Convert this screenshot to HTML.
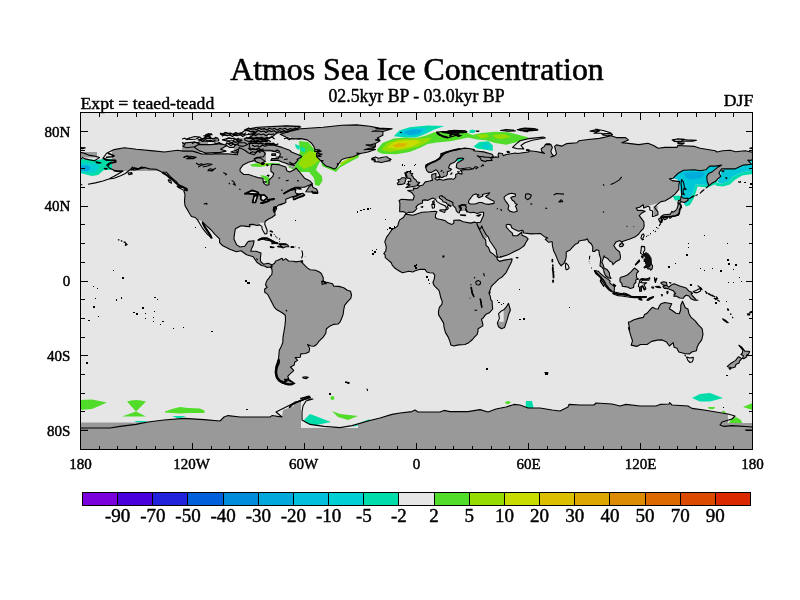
<!DOCTYPE html>
<html><head><meta charset="utf-8"><title>Atmos Sea Ice Concentration</title>
<style>html,body{margin:0;padding:0;background:#fff}svg{display:block}</style></head>
<body>
<svg width="800" height="600" viewBox="0 0 800 600">
<defs><clipPath id="cp"><rect x="80.5" y="112.5" width="672" height="337"/></clipPath></defs>
<rect x="80.5" y="112.5" width="672" height="337" fill="#e6e6e6"/>
<g clip-path="url(#cp)">
<polygon points="80,400 92,399.4 107,402.4 92,409 80,410" fill="#50dc28"/>
<polygon points="127,401.6 131,400.4 136,400 141,400.4 146,401.6 136,411.5 146,416.6 122,416.6 136,411.5" fill="#50dc28"/>
<polygon points="165,411.6 172,409 180,407 188,408 200,408.4 205,411 204,413 188,413 180,413.6 165,412.6" fill="#50dc28"/>
<polygon points="134,421 148,421 140,423.5" fill="#00dcaa"/>
<polygon points="172,416 186,416 179,418.8" fill="#00dcaa"/>
<polygon points="304,420 310,414 331,422 314,425.6 306,423" fill="#00dcaa"/>
<polygon points="332,411 340,414 358,416 348,420 338,417" fill="#50dc28"/>
<circle cx="332.4" cy="398" r="2" fill="#50dc28"/>
<polygon points="362,422 370,419 368,423 352,427" fill="#00dcaa"/>
<polygon points="388,417 392,416 391,418.4" fill="#00dcaa"/>
<polygon points="505,402 508,401 511,402 509,404 506,404" fill="#50dc28"/>
<polygon points="526,401 532,401 533.6,408 525.6,408" fill="#00dcaa"/>
<polygon points="692,398 700,394 710,393 723,398 710,401.6 700,401.6" fill="#00dcaa"/>
<polygon points="708,407 715,407 714,409 709,409" fill="#50dc28"/>
<polygon points="721,412 724,410.6 726,413" fill="#50dc28"/>
<polygon points="729,423 731,419 736,417 741,420 742,423" fill="#50dc28"/>
<polygon points="743,407 752.5,403 752.5,410" fill="#50dc28"/>
<polygon points="80,159 98,160 104,158.4 112,159 112,170 104,170 98,175 92,176 80,173" fill="#00dcaa"/>
<polygon points="80,163 96,163.5 100,167 94,172.5 80,172.5" fill="#00d0d4"/>
<polygon points="80,165.5 88,165.5 91,168 88,171 80,171" fill="#00a8dc"/>
<polygon points="250,164.4 260,163 270,163 280,163.6 280,165.6 268,165.6 260,167 252,166.4" fill="#50dc28"/>
<polygon points="258,164 268,163.6 268,165 259,165.6" fill="#96dc00"/>
<polygon points="260,175 266,176 272.4,180 272.4,184.4 267,184.4 265,180" fill="#50dc28"/>
<polygon points="288,167 296,163 300,152 299,141 308,142 314,149 321,160 318,165 316,170 322,176 322.4,181 319,186 315,185 314,178 309,172 300,172 294,170" fill="#50dc28"/>
<polygon points="298,164 304,155 309,151 315,152 320,160 312,166 304,169" fill="#96dc00"/>
<polygon points="295,144 300,146 299,150 296,148" fill="#00dcaa"/>
<polygon points="300,147 305,148 305,152 301,151" fill="#00dcaa"/>
<polygon points="321,160 336,169 344,162 358,153 359,157 348,163 340,167.6 336,172 322,166" fill="#50dc28"/>
<polygon points="340,163 348,158.5 356,155 357,156.5 348,161 341,165.5" fill="#96dc00"/>
<polygon points="376.9,149.8 382.5,143 393.8,138.5 405,137.4 416.3,138 425.3,135.8 434.3,132.2 445.5,131.3 465.8,132.2 472.5,135.1 481.5,132.9 495,131.8 508.5,132.2 522,135.8 528.8,137.4 517.5,141.9 506.3,144.8 495,143 486,140.3 477,139.6 468,137.4 459,139.6 450,141.2 436.5,142.6 427.5,144.1 420.8,147.5 409.5,152 396,154.3 382.5,153.8 378,152" fill="#50dc28"/>
<polygon points="381.4,149.8 387,143 398.3,139.6 411.8,138.5 423,138.5 432,137.4 427.5,141.9 418.5,146.4 405,149.8 389.3,152" fill="#96dc00"/>
<polygon points="387,147.5 393.8,141.9 405,140.3 416.3,140.3 420.8,141.9 411.8,146.4 398.3,149.3" fill="#c8dc00"/>
<polygon points="392.6,145.3 399.4,143 407.3,143.5 405,146.4 396,147.5" fill="#dcb400"/>
<polygon points="475.9,135.1 486,134 489.4,136.7 481.5,138.5" fill="#96dc00"/>
<polygon points="492.8,135.1 504,134 510.8,136.7 501.8,139 495,138" fill="#96dc00"/>
<polygon points="393.8,136.3 399.4,130.6 409.5,127.3 427.5,125.5 444.4,126.1 434.3,129.5 425.3,134 416.3,137.4 405,137.4" fill="#00dcaa"/>
<polygon points="397,135 401.6,130.6 411.8,128.4 425.3,127.7 427.5,130.6 420.8,135 411.8,136.7" fill="#00d0d4"/>
<polygon points="400.5,133.5 404,130.6 414,129 423,129.3 421,133 411,135.6" fill="#00c0dc"/>
<polygon points="403.9,131.8 414,129.5 421.9,130.6 418.5,134 408.4,135.1" fill="#00a8dc"/>
<polygon points="469,131 472,129.5 476,130.5 474,133 470,133" fill="#00dcaa"/>
<polygon points="473.6,146.4 479.3,141.9 488.3,141.2 492.8,145.3 492.8,150.9 486,149.8 477,148.6" fill="#00dcaa"/>
<polygon points="481.5,145.5 485,143.5 490,145 490.5,148.6 485,148.5" fill="#00d0d4"/>
<polygon points="454.5,158 463.5,157.6 462,161.2 455,161.2" fill="#00dcaa"/>
<polygon points="718.8,177.5 716,184 708,187.5 697.5,186.5 696,192 693.5,199 690,205 686,206.5 684.4,204.3 687.1,203.6 691.3,196.8 694,189.9 695.4,184.4 707.8,185.1 714.6,182.3" fill="#00dcaa"/>
<polygon points="672.7,196 679.6,195.4 681,200 675,200.5" fill="#00dcaa"/>
<polygon points="670.6,177.5 681.6,170.6 695.4,169.3 705,170.6 710.5,165.8 718.8,165.1 722.9,163.8 721.5,169.3 718.8,177.5 714.6,182.3 707.8,185.1 695.4,184.4 694,189.9 691.3,196.8 687.1,203.6 684.4,204.3 681,195.4 679.6,185.8 677.5,179.6" fill="#00c8d8"/>
<polygon points="683.7,172.7 695.4,172 705,172.7 702.3,177.5 691.3,179.6 685.8,177.5" fill="#00acdc"/>
<polygon points="752.5,170.6 752.5,174.1 742.2,175.4 735.3,179.6 729.8,184.4 722.9,186.5 716,185.8 714.6,182.3 721.5,183.7 728.4,181.6 732.5,176.8 740.8,172.7" fill="#00dcaa"/>
<polygon points="721.5,170.6 727,167.9 738,165.8 752.5,163.1 752.5,170.6 740.8,172.7 732.5,176.8 728.4,181.6 721.5,183.7 717.4,182.3 720.1,176.1" fill="#00c8d8"/>
<polygon points="748.3,159 752.5,158.3 752.5,162.4 748.5,162.4" fill="#00c8d8"/>
<path d="M300.0 140.0L300.0 138.6L300.8 138.6L307.3 139.9L311.0 142.7L313.8 146.4L314.8 149.2L321.3 151.1L316.6 153.0L316.6 156.7L320.4 160.4L323.2 163.3L326.0 166.1L330.6 167.6L334.4 169.0L336.2 167.9L339.0 163.3L341.8 159.5L345.6 158.2L353.0 156.7L360.5 153.5L368.0 152.0L375.4 149.6L371.7 148.3L375.4 146.4L375.4 143.6L380.1 140.8L377.3 138.0L382.9 135.2L382.9 131.5L392.2 128.7L379.2 128.1L369.8 126.2L356.8 124.9L341.8 125.3L323.2 127.2L300.8 128.7L300.0 128.9L300.0 127.2L300.8 126.8L300.0 126.8L300.0 125.0L285.0 125.0L285.0 125.9L257.8 127.2L244.8 129.6L256.0 133.3L248.5 138.0L234.0 138.0L234.0 154.5L228.0 153.9L214.9 153.9L211.2 154.3L201.8 153.9L195.5 152.0L202.6 152.0L205.6 153.0L220.5 152.4L226.1 151.1L220.5 149.2L227.0 145.5L220.5 143.6L211.2 144.6L208.0 144.6L208.0 142.0L182.0 142.0L182.0 150.9L177.6 150.2L164.5 152.0L153.3 150.9L136.5 149.2L124.4 147.7L114.1 149.6L112.0 150.7L112.0 160.4L116.0 160.4L116.0 162.3L112.0 162.8L112.0 169.2L114.1 170.2L117.4 171.0L128.5 171.0L159.6 171.0L163.0 171.0L163.0 172.1L166.4 172.2L170.1 176.3L173.3 179.1L176.6 181.9L178.5 184.7L183.2 186.6L186.9 188.9L186.9 190.4L183.7 190.5L185.0 194.7L184.5 200.6L185.0 205.7L187.8 210.4L188.8 212.2L191.4 216.5L195.3 217.5L197.5 219.9L197.5 219.8L197.6 219.8L197.6 219.8L197.6 219.8L197.6 219.8L197.7 219.8L197.7 219.8L197.7 219.8L197.7 219.8L197.8 219.8L197.8 219.8L197.8 219.8L202.5 221.5L202.5 221.5L202.5 221.5L202.6 221.5L202.6 221.5L202.6 221.5L202.6 221.6L202.6 221.6L202.7 221.6L202.7 221.6L202.9 222.3L206.5 225.9L211.2 230.0L214.9 234.3L219.6 238.9L219.6 242.7L222.4 245.5L229.8 249.2L236.4 251.7L241.0 250.7L246.6 254.8L253.2 256.7L256.9 262.3L261.6 265.5L264.4 266.0L267.2 267.4L270.6 267.0L271.8 268.9L272.2 271.7L271.8 274.5L269.6 276.9L269.0 278.2L267.2 280.1L266.0 282.9L265.5 285.1L267.2 287.2L264.7 289.0L264.7 292.2L267.5 294.1L270.0 298.8L272.4 303.4L274.1 306.8L276.5 309.6L282.1 312.8L285.3 315.2L285.5 320.2L284.9 325.9L284.0 331.5L283.0 337.1L282.8 342.7L281.2 346.4L279.3 350.2L278.9 354.8L278.4 359.5L279.3 363.2L277.4 367.0L275.6 370.7L275.6 374.4L277.4 379.1L282.1 382.9L287.7 384.7L291.4 384.4L294.8 383.4L289.6 381.0L286.8 379.1L288.8 378.7L287.7 376.3L289.6 374.4L293.7 370.7L293.3 369.8L290.5 367.0L294.2 365.1L294.6 362.3L297.6 360.4L295.2 357.6L300.2 357.3L300.8 353.9L305.4 353.5L309.0 352.0L309.7 348.3L307.5 344.5L311.0 346.0L314.0 346.2L316.6 344.5L319.1 341.2L323.2 337.1L325.8 333.3L326.3 329.0L329.7 326.2L333.4 324.4L338.1 324.0L340.0 322.1L341.3 319.3L343.1 314.6L343.7 310.0L344.6 305.3L347.4 301.9L350.8 298.4L351.5 295.0L350.6 291.3L347.4 290.2L343.7 287.7L339.0 286.4L333.8 286.2L332.5 283.8L326.9 282.3L326.0 283.8L323.2 281.0L323.2 277.6L321.3 273.5L319.4 272.0L315.7 270.2L310.1 269.8L307.3 267.9L304.5 265.1L302.6 263.2L300.8 261.0L296.1 261.9L293.3 261.2L288.6 261.0L285.8 258.6L283.0 260.4L282.1 258.2L277.4 260.4L275.6 261.0L274.6 263.2L271.9 265.1L271.8 264.7L268.1 263.2L263.4 264.2L260.6 261.4L260.3 258.6L261.0 253.0L256.0 251.3L250.7 251.3L251.7 248.3L253.2 245.5L254.1 240.8L248.5 241.4L247.6 242.1L244.8 246.2L240.1 247.0L236.7 244.9L233.9 238.9L234.7 232.4L235.4 228.7L241.0 225.7L246.6 226.4L250.0 226.8L249.4 224.6L253.2 224.4L256.9 225.5L259.4 225.0L259.4 225.0L259.4 225.0L259.4 224.9L259.4 223.1L259.4 223.0L259.4 223.0L259.4 223.0L259.4 222.9L259.4 222.9L259.5 222.9L259.5 222.9L259.5 222.8L259.5 222.8L259.5 222.8L259.6 222.8L259.6 222.8L259.6 222.8L259.6 222.8L259.7 222.8L259.7 222.8L264.4 222.8L264.4 222.8L264.4 222.8L264.5 222.8L264.5 222.8L264.5 222.8L264.5 222.8L264.6 222.8L264.6 222.9L264.6 222.9L264.6 222.9L264.6 222.9L264.6 223.0L264.8 223.5L265.3 221.2L269.0 218.8L271.8 217.5L275.2 215.0L274.6 211.8L276.5 209.0L275.6 207.5L278.4 205.1L284.0 203.4L285.8 202.5L285.8 199.3L291.4 196.9L293.3 196.9L293.3 199.7L298.0 197.8L304.5 195.0L302.6 193.2L297.0 194.7L295.2 191.7L296.1 189.4L289.6 190.4L284.0 193.5L285.8 192.2L291.4 188.9L295.2 187.2L304.5 187.2L310.1 184.7L312.5 183.8L310.1 181.0L304.5 178.2L300.8 173.5L296.1 168.1L294.2 169.8L289.6 172.0L286.8 170.7L285.8 167.0L278.4 164.6L271.8 164.2L270.9 167.9L270.9 171.3L273.7 173.5L272.8 176.3L269.0 180.1L269.0 184.7L266.2 185.1L263.4 182.9L262.9 178.2L257.8 177.6L248.5 174.5L243.8 174.5L240.1 171.3L240.1 168.9L242.9 165.1L248.5 162.3L249.5 162.0L264.0 162.0L266.0 162.0L266.0 152.0L276.2 152.0L280.0 153.3L280.0 155.3L278.4 158.6L271.8 158.6L270.9 160.4L278.4 160.4L282.1 161.9L284.9 162.9L288.0 166.0L294.0 169.0L296.0 164.0L300.0 159.0L299.2 158.2L301.7 156.7L300.8 155.8L293.6 152.9L291.1 150.7L280.0 147.0L268.0 141.0L268.0 138.9L266.9 138.4L267.2 138.4L268.0 138.1L268.0 135.0L273.7 135.5L276.5 133.3L285.0 131.6L285.0 132.9L280.2 134.3L284.4 136.4L292.0 137.0L298.0 140.0ZM257.8 192.2L258.8 194.1L254.1 194.1L248.5 193.7L244.8 193.7L252.2 190.4ZM267.2 197.8L264.0 200.6L262.5 200.6L260.6 198.8L261.0 196.5L259.7 195.0L264.4 195.0ZM257.8 195.4L255.4 202.5L252.6 202.5L254.1 195.6ZM267.2 202.1L262.5 203.6L261.0 203.1L269.0 201.0ZM273.7 199.7L269.0 200.3L267.5 200.1L274.3 198.8ZM80.0 157.5L97.0 157.5L97.0 152.0L80.0 152.0ZM391.0 158.0L377.0 158.0L377.0 162.0L391.0 162.0ZM412.8 173.5L410.0 173.2L410.9 171.5L407.2 171.5L405.3 173.5L406.2 176.3L407.2 178.2L410.0 178.4L410.9 180.1L410.9 181.2L408.1 181.4L408.7 183.3L406.8 184.2L410.0 184.9L408.5 185.7L405.9 187.6L410.0 187.0L414.6 186.2L418.9 185.3L417.4 184.7L419.7 182.5L416.9 181.9L416.1 180.1L413.7 178.2L412.8 176.3L411.3 175.6ZM397.8 184.6L401.6 184.4L404.7 183.4L405.3 181.0L406.0 179.1L404.7 177.8L401.6 177.8L400.6 179.3L397.8 179.7L399.1 181.6L397.3 183.4ZM312.9 193.2L315.7 193.5L317.9 192.2L316.6 188.9L312.9 187.6L312.3 184.7L309.2 186.6L305.8 191.8L312.0 192.0ZM281.2 247.0L283.0 247.9L285.8 246.8L288.8 246.8L287.7 244.9L285.8 244.0L282.7 244.0L279.7 243.8L280.6 245.5L281.2 246.2L277.6 246.6ZM669.6 402.6L669.0 404.0L660.0 404.4L656.0 406.0L640.0 406.0L626.0 404.4L620.0 406.0L612.0 404.0L596.0 403.0L594.0 405.0L580.0 405.0L569.0 404.4L568.0 407.0L560.0 411.0L552.0 410.0L540.0 408.0L528.0 408.0L520.0 405.0L514.0 404.4L506.0 407.0L496.0 409.0L488.0 412.0L480.0 409.6L468.0 411.6L450.0 411.6L444.0 410.4L440.0 412.0L418.0 412.0L415.0 410.0L412.0 411.6L400.0 413.0L392.0 414.4L380.0 418.0L368.0 421.0L358.0 423.5L358.0 428.0L301.0 428.0L301.0 401.0L294.0 401.0L294.0 406.0L283.0 410.0L282.0 417.0L270.0 417.0L240.0 417.0L228.0 415.6L224.0 417.0L220.0 421.0L204.0 419.6L184.0 418.4L164.0 420.0L148.0 422.0L134.0 422.6L80.0 422.6L80.0 451.0L753.0 451.0L753.0 423.0L728.0 423.0L728.0 414.0L716.0 412.0L704.0 410.0L692.0 408.4L688.0 406.0L672.0 405.0ZM679.7 203.1L680.6 201.6L684.4 202.5L688.1 200.3L687.7 198.4L683.4 198.2L681.0 196.1L680.6 200.1L678.4 200.6L677.8 203.4ZM422.5 202.9L422.5 200.3L424.9 199.9L427.7 200.4L430.5 199.1L432.9 198.0L435.5 199.4L435.5 199.4L435.5 199.3L435.5 199.3L435.5 199.3L435.6 199.3L435.6 199.3L435.6 199.2L435.6 199.2L439.6 197.9L439.6 197.9L439.6 197.9L439.6 197.9L439.5 196.3L442.1 195.6L442.1 196.3L442.0 196.3L440.0 198.0L443.0 201.8L446.4 202.7L451.0 205.9L453.2 205.6L455.7 208.1L456.3 210.9L458.1 212.6L459.4 212.8L459.7 211.0L466.9 211.0L467.5 211.8L470.6 212.8L473.6 212.2L477.2 213.5L480.9 212.2L483.7 212.2L483.5 215.6L481.8 219.3L480.5 222.3L476.8 222.7L474.4 222.1L470.6 223.1L463.2 221.8L459.4 220.1L453.8 220.3L453.8 223.1L452.0 224.4L448.2 223.1L445.1 220.6L440.8 219.5L437.0 218.8L435.4 217.5L435.5 214.7L437.0 211.8L435.2 211.3L429.6 211.8L422.1 212.2L416.5 214.1L412.8 215.2L405.5 214.1L403.4 217.5L399.7 219.9L398.4 223.1L397.8 225.9L395.0 228.1L392.2 229.2L388.7 234.3L386.6 237.1L384.8 241.8L385.7 244.6L386.3 247.4L385.7 251.1L383.8 253.5L385.1 254.8L385.3 257.6L388.5 260.4L391.3 262.7L392.2 265.1L395.0 268.3L399.7 271.3L402.5 272.8L409.0 271.3L412.8 272.0L414.6 271.1L420.2 269.2L424.9 269.4L426.8 272.0L429.6 272.8L433.3 273.0L434.8 275.4L434.2 279.1L432.9 282.5L434.2 285.7L438.9 290.3L439.5 292.2L440.8 297.8L442.3 301.6L441.9 304.4L439.5 307.2L438.5 310.9L438.5 314.6L440.8 318.4L443.6 323.1L444.1 327.7L445.4 332.4L448.2 337.1L450.1 342.1L450.8 344.9L453.8 346.0L458.5 344.9L465.0 344.5L468.8 342.7L472.5 339.5L474.4 337.1L477.2 334.3L477.9 331.5L478.1 328.7L482.8 325.9L482.8 324.0L481.5 319.3L482.8 318.4L485.6 314.6L489.3 312.8L492.7 309.0L492.3 305.3L492.1 301.2L490.8 299.7L490.2 296.0L488.9 293.1L490.2 289.8L491.2 286.6L493.0 284.7L494.9 282.9L498.6 279.1L502.4 276.7L506.1 272.6L508.9 267.0L511.7 261.4L512.1 258.9L504.2 260.1L499.6 261.4L497.3 259.5L496.8 257.3L493.0 253.9L490.2 252.0L488.4 247.4L486.1 245.5L485.6 239.9L483.9 238.0L487.0 238.0L487.0 235.5L488.4 237.1L489.7 240.8L493.0 245.5L496.2 250.2L496.4 253.3L497.7 257.3L500.5 257.1L508.0 254.8L513.9 251.7L519.2 249.2L522.0 247.4L524.4 245.5L525.7 242.7L528.1 238.9L526.1 236.9L522.0 235.2L521.8 231.8L521.0 232.8L517.3 235.8L512.8 235.6L512.6 233.9L511.7 232.4L510.2 231.5L508.9 230.0L506.5 227.4L506.1 224.9L508.0 224.2L510.8 224.9L511.7 227.7L514.7 229.6L518.6 231.3L522.0 230.2L522.9 230.5L523.8 233.0L531.3 233.9L540.6 233.5L542.1 234.8L544.4 236.7L547.7 238.0L545.3 239.3L548.7 242.3L551.3 241.8L552.2 241.8L552.4 245.5L553.7 251.1L555.6 254.8L557.1 258.6L558.9 262.9L561.2 265.9L562.5 264.4L564.0 263.6L564.5 261.7L565.5 260.4L566.2 256.7L566.2 252.0L570.1 250.0L571.4 248.3L575.5 244.2L578.5 242.7L578.9 241.0L582.6 240.3L585.4 239.9L587.3 238.8L588.6 241.8L591.4 244.0L592.9 247.4L592.5 251.1L594.4 251.5L596.6 249.8L598.9 250.5L599.4 254.8L600.7 258.6L600.4 262.3L600.0 266.0L602.2 267.4L603.7 269.8L604.1 272.6L605.6 275.8L608.8 278.0L611.0 278.4L609.7 276.3L609.3 272.6L606.9 269.4L604.1 267.9L603.2 265.1L601.9 262.3L603.2 258.6L604.1 255.8L605.0 257.3L607.8 258.6L609.7 261.0L612.1 262.3L612.9 264.7L616.2 261.4L620.0 259.5L620.5 256.7L619.6 252.0L616.2 249.2L613.8 245.5L615.9 242.1L620.0 240.6L622.4 243.1L621.8 241.8L624.6 240.8L629.9 239.1L634.9 237.1L638.6 234.3L640.5 231.5L643.3 228.7L644.2 225.9L643.9 223.4L643.9 221.8L641.4 218.4L639.2 215.6L641.4 213.3L645.2 211.3L641.8 210.4L637.7 210.5L636.2 208.1L639.6 207.2L643.3 204.7L643.7 208.1L647.7 206.4L647.7 206.3L647.7 206.3L647.7 206.3L647.7 206.3L647.7 206.2L647.7 206.2L647.7 206.2L647.7 206.1L647.7 206.1L647.7 206.1L647.7 206.1L647.7 206.0L647.8 206.0L647.8 206.0L647.8 206.0L647.8 206.0L647.9 206.0L647.9 205.9L658.5 203.1L658.6 203.1L658.6 203.1L658.6 203.1L658.6 203.1L658.7 203.1L658.7 203.2L658.7 203.2L658.8 203.2L658.8 203.2L658.8 203.2L658.8 203.2L658.8 203.3L661.0 201.6L664.8 201.0L670.4 197.8L675.0 194.1L678.8 189.4L678.8 184.7L679.7 181.6L672.2 180.6L669.4 178.8L673.2 178.2L677.8 173.5L683.4 170.2L694.6 169.8L700.2 170.7L705.8 169.8L709.6 166.1L715.2 166.1L721.7 165.1L717.0 167.9L712.4 171.7L708.6 173.5L706.8 176.3L707.1 181.0L709.0 185.7L712.4 182.9L715.2 181.6L718.5 178.2L720.8 176.3L718.9 173.0L720.8 169.8L721.7 168.9L726.4 168.9L734.8 168.9L743.2 165.1L751.6 164.2L750.6 163.3L747.8 160.1L750.6 160.4L752.5 159.5L752.5 152.2L745.0 150.7L735.7 151.7L730.1 150.2L722.6 150.7L717.0 152.0L715.2 150.7L700.2 148.3L694.6 146.4L677.8 145.5L676.9 147.4L664.8 147.4L658.2 148.3L653.6 145.5L648.0 143.3L638.6 144.6L626.5 143.1L621.8 142.7L628.4 139.9L625.6 137.6L616.2 137.6L611.2 135.8L599.4 138.4L588.2 139.5L578.9 140.8L577.0 142.7L566.8 143.6L562.1 146.1L556.5 144.9L554.6 146.4L555.6 150.2L556.5 153.9L554.6 155.8L550.9 157.1L553.7 155.8L551.8 153.9L550.9 151.1L552.4 147.4L550.9 144.6L545.3 144.6L544.4 146.4L541.2 148.7L541.6 151.1L544.4 153.5L541.6 152.6L536.0 151.5L529.4 150.7L528.5 152.0L522.9 152.8L517.3 153.5L515.4 153.0L506.1 154.5L503.3 155.8L502.4 153.5L498.6 153.0L498.1 155.2L498.6 157.3L494.9 156.9L492.0 158.1L492.0 157.0L493.4 156.3L492.1 154.3L483.7 151.9L478.1 151.3L473.4 150.7L474.4 149.6L468.8 148.5L464.5 148.1L457.6 149.6L452.0 150.5L448.2 152.0L444.5 153.3L440.8 155.4L439.8 157.6L436.1 160.4L432.4 162.3L429.6 163.3L425.8 165.1L425.8 167.9L426.8 170.7L428.6 172.4L431.4 172.4L434.2 170.7L436.1 169.8L437.0 170.7L438.5 172.6L439.8 175.8L440.8 177.5L443.0 177.5L443.2 176.5L446.2 176.0L447.3 174.5L447.3 171.7L450.1 170.7L451.6 169.2L448.6 167.9L448.8 167.0L450.1 164.2L454.8 161.9L456.3 160.4L457.6 158.6L461.3 158.0L463.7 158.6L463.2 159.5L457.6 162.7L456.6 164.2L456.3 167.4L459.2 169.0L463.2 168.5L469.7 167.7L472.9 169.0L468.8 169.8L464.1 169.6L460.4 170.4L462.0 172.0L461.9 174.1L458.5 173.2L455.7 174.5L455.7 177.3L453.5 179.3L451.0 178.8L447.3 179.1L443.0 180.3L439.8 179.3L437.0 180.1L434.8 178.6L436.5 177.6L435.7 175.4L436.1 173.2L431.8 174.5L431.8 177.3L432.6 180.1L429.6 181.0L425.3 181.9L423.0 184.9L419.5 186.1L416.9 188.5L413.3 188.1L413.7 190.0L407.7 190.5L411.8 192.6L414.3 196.0L413.1 199.9L409.0 199.9L401.6 199.3L399.1 200.6L399.9 203.4L399.7 208.7L399.7 211.8L402.9 211.5L404.7 212.2L406.2 213.7L408.1 212.4L412.8 212.2L415.2 210.5L416.9 208.5L415.9 207.2L418.4 204.4ZM477.4 224.9L478.0 226.1L478.0 226.6L477.2 224.9L476.8 222.7ZM444.5 197.3L445.2 198.1L444.5 197.3L444.2 197.2ZM450.1 201.0L450.4 201.2L450.0 201.0L447.9 200.1ZM492.0 160.3L492.1 160.4L492.0 160.5ZM461.1 205.0L461.3 204.7L466.0 204.7L465.9 205.0ZM468.8 200.6L470.1 198.8L471.9 196.5L473.4 194.7L475.9 193.9L479.0 195.0L477.2 196.0L479.0 197.8L482.8 196.1L482.4 194.5L486.5 193.5L489.7 192.8L487.8 195.0L485.6 196.5L487.4 197.8L490.8 199.7L494.0 201.2L494.0 203.4L488.4 204.4L484.6 203.8L481.8 202.5L479.0 202.5L475.3 204.0L470.6 204.0L469.7 203.8L468.4 202.5ZM511.7 193.2L515.4 194.1L515.4 196.3L512.1 196.9L510.8 197.8L512.6 200.6L514.5 201.6L515.1 203.4L517.3 204.4L515.4 206.2L516.4 208.1L517.3 211.3L513.6 212.2L509.8 211.1L508.0 209.0L508.9 205.7L507.0 202.9L505.2 200.6L504.2 198.8L504.2 196.9L508.0 194.1ZM661.0 217.5L664.8 216.9L668.5 216.5L670.0 218.4L671.9 216.9L672.2 216.1L674.1 216.3L676.0 215.2L678.4 215.2L679.3 213.7L679.7 210.0L681.6 207.2L680.3 203.8L678.2 204.4L677.8 206.2L676.9 209.0L675.0 211.1L672.8 212.2L671.9 211.3L670.4 214.1L666.6 214.5L663.8 214.8L661.0 216.5ZM663.5 218.8L664.8 219.7L667.2 218.4L667.6 217.1L663.8 217.5ZM662.0 222.1L662.5 219.3L661.0 217.8L659.2 218.4L658.6 219.3L659.5 221.2L660.5 223.1ZM643.3 256.3L641.4 256.0L642.0 257.6L642.7 258.0ZM648.5 260.4L649.8 261.9L651.0 260.4L649.8 258.0L648.5 257.8ZM644.2 258.9L644.2 261.4L645.2 261.4L646.1 259.5ZM647.0 262.3L646.1 260.8L645.4 263.2L646.7 263.6ZM644.2 267.9L647.0 267.0L648.0 268.9L650.2 268.9L650.8 270.2L652.1 268.9L652.6 266.0L650.8 262.9L647.0 265.1L644.2 267.0ZM638.6 279.1L636.8 278.2L636.4 275.4L636.8 273.0L638.6 271.3L636.2 269.2L634.3 268.1L631.2 271.7L627.4 275.0L624.3 276.3L620.9 277.3L620.0 278.2L620.0 281.6L621.8 283.4L622.2 286.2L625.0 286.6L627.4 287.0L630.4 288.5L633.6 287.5L634.0 284.2L635.8 282.5L635.8 280.1ZM611.6 284.4L609.7 282.9L610.1 281.0L607.8 279.1L605.0 277.3L603.2 275.8L600.4 273.5L598.5 271.3L594.4 270.5L595.7 273.5L598.5 275.8L600.7 277.8L601.3 280.1L603.7 282.9L605.0 285.7L606.9 287.9L608.8 290.0L611.8 291.8L614.2 291.8L614.4 286.6ZM674.1 296.5L676.0 296.0L679.7 298.0L683.4 298.2L684.4 296.5L686.2 295.2L689.0 296.0L690.9 298.8L694.6 300.3L698.0 300.3L696.5 300.1L692.6 296.0L690.9 293.7L692.4 293.5L691.8 292.2L688.7 290.9L686.2 288.1L679.7 285.9L674.1 283.8L672.2 284.4L668.5 287.2L667.0 285.7L666.6 282.5L663.8 281.7L661.0 282.5L661.0 283.4L663.5 285.1L666.1 285.5L662.9 286.4L664.4 288.5L665.7 288.1L669.4 289.2L673.2 290.7L675.6 293.7L674.1 294.1ZM508.9 313.7L510.4 310.0L508.5 303.4L506.1 307.2L504.2 309.4L503.3 309.9L503.7 309.8L503.7 321.8L498.3 321.8L498.3 320.8L497.3 323.1L498.6 326.8L501.4 328.7L504.6 327.4L507.0 320.2ZM662.0 339.9L666.6 342.1L669.4 346.0L673.2 342.7L674.1 347.3L676.9 348.3L678.8 352.0L684.4 353.5L689.6 353.9L691.8 352.0L696.5 350.7L697.1 347.3L698.9 343.6L701.7 339.9L703.0 334.3L702.1 328.7L698.4 324.9L695.2 320.8L690.9 317.1L689.0 313.7L687.9 309.0L685.3 307.7L682.5 301.2L680.8 305.3L680.6 310.0L679.3 313.7L676.0 313.3L672.2 310.5L669.4 308.7L671.7 303.8L664.8 302.5L661.0 303.8L659.2 306.2L658.2 309.0L655.4 308.7L652.6 307.2L649.8 310.0L647.0 313.3L644.6 314.6L643.3 317.4L638.6 318.4L634.0 319.7L630.2 321.7L628.4 322.1L629.7 329.6L628.4 327.7L631.2 337.1L632.5 340.8L631.2 345.1L636.8 346.4L640.5 344.5L647.0 344.5L651.7 341.4L657.3 340.1ZM748.8 351.3L745.0 351.3L743.7 349.6L741.9 347.3L738.9 345.3L739.8 346.4L742.8 350.2L742.4 353.0L740.9 354.6L743.4 355.8L742.6 358.2L743.7 358.8L746.7 356.7L746.9 354.8L748.4 354.3L749.7 351.5ZM738.9 356.7L737.9 357.3L735.7 360.4L731.0 363.2L727.3 366.4L729.2 367.3L732.0 368.1L735.1 367.0L736.1 364.2L739.1 362.9L739.4 361.4L741.7 358.6ZM657.5 215.0L657.5 206.0L653.5 206.0L653.5 215.0Z" fill="#999999" fill-rule="evenodd" stroke="none"/>

<path d="M102.9 158.4L106.6 153.3L114.1 149.6L124.4 147.7L136.5 149.2L153.3 150.9L164.5 152.0L177.6 150.2L183.2 151.1L192.5 151.1L201.8 153.9L211.2 154.3L214.9 153.9L228.0 153.9L237.3 154.8L239.2 147.4L244.8 150.2L248.5 153.0L254.1 154.8L257.8 151.1L263.4 151.1L265.3 153.9L263.4 156.7L256.0 157.6L254.1 160.4L248.5 162.3L242.9 165.1L240.1 168.9L240.1 171.3L243.8 174.5L248.5 174.5L257.8 177.6L262.9 178.2L263.4 182.9L266.2 185.1L269.0 184.7L269.0 180.1L272.8 176.3L273.7 173.5L270.9 171.3L270.9 167.9L271.8 164.2L278.4 164.6L285.8 167.0L286.8 170.7L289.6 172.0L294.2 169.8L296.1 168.1L300.8 173.5L304.5 178.2L310.1 181.0L312.5 183.8L310.1 184.7L304.5 187.2L295.2 187.2L291.4 188.9L285.8 192.2L284.0 193.5L289.6 190.4L296.1 189.4L295.2 191.7L297.0 194.7L302.6 193.2L304.5 195.0L298.0 197.8L293.3 199.7L293.3 196.9L291.4 196.9L285.8 199.3L285.8 202.5L284.0 203.4L278.4 205.1L275.6 207.5L276.5 209.0L274.6 211.8L275.2 215.0L271.8 217.5L269.0 218.8L265.3 221.2L264.7 224.0L267.2 230.5L266.8 233.7L264.9 233.9L262.1 229.0L261.9 226.4L259.7 224.9L256.9 225.5L253.2 224.4L249.4 224.6L250.0 226.8L246.6 226.4L241.0 225.7L235.4 228.7L234.7 232.4L233.9 238.9L236.7 244.9L240.1 247.0L244.8 246.2L247.6 242.1L248.5 241.4L254.1 240.8L253.2 245.5L251.7 248.3L250.7 251.3L256.0 251.3L261.0 253.0L260.3 258.6L260.6 261.4L263.4 264.2L268.1 263.2L271.8 264.7L272.2 267.0L270.9 267.0L267.2 267.4L264.4 266.0L261.6 265.5L256.9 262.3L253.2 256.7L246.6 254.8L241.0 250.7L236.4 251.7L229.8 249.2L222.4 245.5L219.6 242.7L219.6 238.9L214.9 234.3L211.2 230.0L206.5 225.9L202.4 221.8L203.7 224.9L207.4 230.5L210.6 235.8L212.1 238.0L207.4 234.3L202.8 228.7L200.0 224.0L197.7 220.1L195.3 217.5L191.4 216.5L188.8 212.2L187.8 210.4L185.0 205.7L184.5 200.6L185.0 194.7L183.7 190.5L186.9 190.4L186.9 188.9L183.2 186.6L178.5 184.7L176.6 181.9L173.3 179.1L170.1 176.3L166.4 172.2L161.7 172.0L156.1 169.2L149.6 168.9L144.0 167.4L139.3 168.9L133.7 170.2L132.8 167.0L130.0 169.8L125.3 173.5L120.6 175.8L114.1 178.2L108.9 179.0L114.1 176.3L120.6 172.6L122.9 171.1L117.8 171.1L114.1 170.2L109.4 167.9L106.6 165.1L108.9 163.3L116.0 162.3L116.0 160.4L110.4 160.4L105.7 160.1ZM280.2 134.3L289.6 131.5L300.8 128.7L323.2 127.2L341.8 125.3L356.8 124.9L369.8 126.2L379.2 128.1L392.2 128.7L382.9 131.5L382.9 135.2L377.3 138.0L380.1 140.8L375.4 143.6L375.4 146.4L371.7 148.3L375.4 149.6L368.0 152.0L360.5 153.5L353.0 156.7L345.6 158.2L341.8 159.5L339.0 163.3L336.2 167.9L334.4 169.0L330.6 167.6L326.0 166.1L323.2 163.3L320.4 160.4L316.6 156.7L316.6 153.0L321.3 151.1L314.8 149.2L313.8 146.4L311.0 142.7L307.3 139.9L300.8 138.6L291.4 139.0L285.8 137.1ZM271.8 265.1L274.6 263.2L275.6 261.0L277.4 260.4L282.1 258.2L283.0 260.4L285.8 258.6L288.6 261.0L293.3 261.2L296.1 261.9L300.8 261.0L302.6 263.2L304.5 265.1L307.3 267.9L310.1 269.8L315.7 270.2L319.4 272.0L321.3 273.5L323.2 277.6L323.2 281.0L326.0 283.8L326.9 282.3L332.5 283.8L333.8 286.2L339.0 286.4L343.7 287.7L347.4 290.2L350.6 291.3L351.5 295.0L350.8 298.4L347.4 301.9L344.6 305.3L343.7 310.0L343.1 314.6L341.3 319.3L340.0 322.1L338.1 324.0L333.4 324.4L329.7 326.2L326.3 329.0L325.8 333.3L323.2 337.1L319.1 341.2L316.6 344.5L314.0 346.2L311.0 346.0L307.5 344.5L309.7 348.3L309.0 352.0L305.4 353.5L300.8 353.9L300.2 357.3L295.2 357.6L297.6 360.4L294.6 362.3L294.2 365.1L290.5 367.0L293.3 369.8L293.7 370.7L289.6 374.4L287.7 376.3L288.8 378.7L286.8 379.1L289.6 381.0L294.8 383.4L291.4 384.4L287.7 384.7L282.1 382.9L277.4 379.1L275.6 374.4L275.6 370.7L277.4 367.0L279.3 363.2L278.4 359.5L278.9 354.8L279.3 350.2L281.2 346.4L282.8 342.7L283.0 337.1L284.0 331.5L284.9 325.9L285.5 320.2L285.3 315.2L282.1 312.8L276.5 309.6L274.1 306.8L272.4 303.4L270.0 298.8L267.5 294.1L264.7 292.2L264.7 289.0L267.2 287.2L265.5 285.1L266.0 282.9L267.2 280.1L269.0 278.2L269.6 276.9L271.8 274.5L272.2 271.7L271.8 268.9L270.5 267.0ZM405.5 214.1L412.8 215.2L416.5 214.1L422.1 212.2L429.6 211.8L435.2 211.3L437.0 211.8L435.5 214.7L435.4 217.5L437.0 218.8L440.8 219.5L445.1 220.6L448.2 223.1L452.0 224.4L453.8 223.1L453.8 220.3L459.4 220.1L463.2 221.8L470.6 223.1L474.4 222.1L476.8 222.7L477.2 224.9L479.0 228.7L481.8 234.3L483.1 237.1L485.6 239.9L486.1 245.5L488.4 247.4L490.2 252.0L493.0 253.9L496.8 257.3L497.3 259.5L499.6 261.4L504.2 260.1L512.1 258.9L511.7 261.4L508.9 267.0L506.1 272.6L502.4 276.7L498.6 279.1L494.9 282.9L493.0 284.7L491.2 286.6L490.2 289.8L488.9 293.1L490.2 296.0L490.8 299.7L492.1 301.2L492.3 305.3L492.7 309.0L489.3 312.8L485.6 314.6L482.8 318.4L481.5 319.3L482.8 324.0L482.8 325.9L478.1 328.7L477.9 331.5L477.2 334.3L474.4 337.1L472.5 339.5L468.8 342.7L465.0 344.5L458.5 344.9L453.8 346.0L450.8 344.9L450.1 342.1L448.2 337.1L445.4 332.4L444.1 327.7L443.6 323.1L440.8 318.4L438.5 314.6L438.5 310.9L439.5 307.2L441.9 304.4L442.3 301.6L440.8 297.8L439.5 292.2L438.9 290.3L434.2 285.7L432.9 282.5L434.2 279.1L434.8 275.4L433.3 273.0L429.6 272.8L426.8 272.0L424.9 269.4L420.2 269.2L414.6 271.1L412.8 272.0L409.0 271.3L402.5 272.8L399.7 271.3L395.0 268.3L392.2 265.1L391.3 262.7L388.5 260.4L385.3 257.6L385.1 254.8L383.8 253.5L385.7 251.1L386.3 247.4L385.7 244.6L384.8 241.8L386.6 237.1L388.7 234.3L392.2 229.2L395.0 228.1L397.8 225.9L398.4 223.1L399.7 219.9L403.4 217.5ZM399.7 208.7L399.9 203.4L399.1 200.6L401.6 199.3L409.0 199.9L413.1 199.9L414.3 196.0L411.8 192.6L407.7 190.5L413.7 190.0L413.3 188.1L416.9 188.5L419.5 186.1L423.0 184.9L425.3 181.9L429.6 181.0L432.6 180.1L431.8 177.3L431.8 174.5L436.1 173.2L435.7 175.4L436.5 177.6L434.8 178.6L437.0 180.1L439.8 179.3L443.0 180.3L447.3 179.1L451.0 178.8L453.5 179.3L455.7 177.3L455.7 174.5L458.5 173.2L461.9 174.1L462.0 172.0L460.4 170.4L464.1 169.6L468.8 169.8L472.9 169.0L469.7 167.7L463.2 168.5L459.2 169.0L456.3 167.4L456.6 164.2L457.6 162.7L463.2 159.5L463.7 158.6L461.3 158.0L457.6 158.6L456.3 160.4L454.8 161.9L450.1 164.2L448.8 167.0L448.6 167.9L451.6 169.2L450.1 170.7L447.3 171.7L447.3 174.5L446.2 176.0L443.2 176.5L443.0 177.5L440.8 177.5L439.8 175.8L438.5 172.6L437.0 170.7L436.1 169.8L434.2 170.7L431.4 172.4L428.6 172.4L426.8 170.7L425.8 167.9L425.8 165.1L429.6 163.3L432.4 162.3L436.1 160.4L439.8 157.6L440.8 155.4L444.5 153.3L448.2 152.0L452.0 150.5L457.6 149.6L464.5 148.1L468.8 148.5L474.4 149.6L473.4 150.7L478.1 151.3L483.7 151.9L492.1 154.3L493.4 156.3L491.2 157.5L485.6 157.1L479.0 156.3L477.2 155.8L480.0 157.6L481.5 160.4L485.6 161.6L486.5 160.6L492.1 160.4L490.8 158.6L494.9 156.9L498.6 157.3L498.1 155.2L498.6 153.0L502.4 153.5L503.3 155.8L506.1 154.5L515.4 153.0L517.3 153.5L522.9 152.8L528.5 152.0L529.4 150.7L536.0 151.5L541.6 152.6L544.4 153.5L541.6 151.1L541.2 148.7L544.4 146.4L545.3 144.6L550.9 144.6L552.4 147.4L550.9 151.1L551.8 153.9L553.7 155.8L550.9 157.1L554.6 155.8L556.5 153.9L555.6 150.2L554.6 146.4L556.5 144.9L562.1 146.1L566.8 143.6L577.0 142.7L578.9 140.8L588.2 139.5L599.4 138.4L611.2 135.8L616.2 137.6L625.6 137.6L628.4 139.9L621.8 142.7L626.5 143.1L638.6 144.6L648.0 143.3L653.6 145.5L658.2 148.3L664.8 147.4L676.9 147.4L677.8 145.5L694.6 146.4L700.2 148.3L715.2 150.7L717.0 152.0L722.6 150.7L730.1 150.2L735.7 151.7L745.0 150.7L752.5 152.2L752.5 159.5L750.6 160.4L747.8 160.1L750.6 163.3L751.6 164.2L743.2 165.1L734.8 168.9L726.4 168.9L721.7 168.9L720.8 169.8L718.9 173.0L720.8 176.3L718.5 178.2L715.2 181.6L712.4 182.9L709.0 185.7L707.1 181.0L706.8 176.3L708.6 173.5L712.4 171.7L717.0 167.9L721.7 165.1L715.2 166.1L709.6 166.1L705.8 169.8L700.2 170.7L694.6 169.8L683.4 170.2L677.8 173.5L673.2 178.2L669.4 178.8L672.2 180.6L679.7 181.6L678.8 184.7L678.8 189.4L675.0 194.1L670.4 197.8L664.8 201.0L661.0 201.6L658.6 203.4L655.4 206.2L654.5 207.5L657.9 211.8L657.9 214.7L654.5 216.1L652.3 216.5L652.6 213.7L652.6 210.9L649.8 210.0L649.8 207.2L648.0 206.2L643.7 208.1L643.3 204.7L639.6 207.2L636.2 208.1L637.7 210.5L641.8 210.4L645.2 211.3L641.4 213.3L639.2 215.6L641.4 218.4L643.9 221.8L643.9 223.4L644.2 225.9L643.3 228.7L640.5 231.5L638.6 234.3L634.9 237.1L629.9 239.1L624.6 240.8L621.8 241.8L622.4 243.1L620.0 240.6L615.9 242.1L613.8 245.5L616.2 249.2L619.6 252.0L620.5 256.7L620.0 259.5L616.2 261.4L612.9 264.7L612.1 262.3L609.7 261.0L607.8 258.6L605.0 257.3L604.1 255.8L603.2 258.6L601.9 262.3L603.2 265.1L604.1 267.9L606.9 269.4L609.3 272.6L609.7 276.3L611.0 278.4L608.8 278.0L605.6 275.8L604.1 272.6L603.7 269.8L602.2 267.4L600.0 266.0L600.4 262.3L600.7 258.6L599.4 254.8L598.9 250.5L596.6 249.8L594.4 251.5L592.5 251.1L592.9 247.4L591.4 244.0L588.6 241.8L587.3 238.8L585.4 239.9L582.6 240.3L578.9 241.0L578.5 242.7L575.5 244.2L571.4 248.3L570.1 250.0L566.2 252.0L566.2 256.7L565.5 260.4L564.5 261.7L564.0 263.6L562.5 264.4L561.2 265.9L558.9 262.9L557.1 258.6L555.6 254.8L553.7 251.1L552.4 245.5L552.2 241.8L551.3 241.8L548.7 242.3L545.3 239.3L547.7 238.0L544.4 236.7L542.1 234.8L540.6 233.5L531.3 233.9L523.8 233.0L522.9 230.5L522.0 230.2L518.6 231.3L514.7 229.6L511.7 227.7L510.8 224.9L508.0 224.2L506.1 224.9L506.5 227.4L508.9 230.0L510.2 231.5L511.7 232.4L512.6 233.9L512.8 235.6L517.3 235.8L521.0 232.8L521.8 231.8L522.0 235.2L526.1 236.9L528.1 238.9L525.7 242.7L524.4 245.5L522.0 247.4L519.2 249.2L513.9 251.7L508.0 254.8L500.5 257.1L497.7 257.3L496.4 253.3L496.2 250.2L493.0 245.5L489.7 240.8L488.4 237.1L485.9 234.3L482.8 228.7L481.8 225.9L480.5 228.7L479.2 228.3L477.4 224.9L476.8 222.7L480.5 222.3L481.8 219.3L483.5 215.6L483.7 212.2L480.9 212.2L477.2 213.5L473.6 212.2L470.6 212.8L467.5 211.8L465.6 209.0L466.5 207.2L465.4 206.2L466.0 204.7L461.3 204.7L460.4 206.2L458.9 205.5L459.4 207.7L461.3 210.0L459.8 210.4L459.4 212.8L458.1 212.6L456.3 210.9L455.7 208.1L452.9 205.3L452.9 202.5L450.1 201.0L446.4 199.5L444.5 197.3L442.1 196.5L442.1 195.6L439.5 196.3L439.6 198.2L441.9 199.7L443.0 201.8L446.4 202.7L446.4 203.6L451.0 205.9L450.7 206.6L448.2 205.3L447.3 206.8L448.4 208.1L447.3 209.4L445.8 210.0L446.4 208.1L445.4 206.1L443.2 204.9L439.8 203.4L437.0 201.6L435.7 199.5L432.9 198.0L430.5 199.1L427.7 200.4L424.9 199.9L422.5 200.3L422.5 202.9L418.4 204.4L415.9 207.2L416.9 208.5L415.2 210.5L412.8 212.2L408.1 212.4L406.2 213.7L404.7 212.2L402.9 211.5L399.7 211.8ZM80.5 152.2L86.1 153.9L89.8 155.4L95.4 156.2L99.5 157.6L94.5 160.8L89.8 159.9L84.2 158.6L82.4 157.6L80.5 159.5ZM628.4 322.1L629.7 329.6L628.4 327.7L631.2 337.1L632.5 340.8L631.2 345.1L636.8 346.4L640.5 344.5L647.0 344.5L651.7 341.4L657.3 340.1L662.0 339.9L666.6 342.1L669.4 346.0L673.2 342.7L674.1 347.3L676.9 348.3L678.8 352.0L684.4 353.5L689.6 353.9L691.8 352.0L696.5 350.7L697.1 347.3L698.9 343.6L701.7 339.9L703.0 334.3L702.1 328.7L698.4 324.9L695.2 320.8L690.9 317.1L689.0 313.7L687.9 309.0L685.3 307.7L682.5 301.2L680.8 305.3L680.6 310.0L679.3 313.7L676.0 313.3L672.2 310.5L669.4 308.7L671.7 303.8L664.8 302.5L661.0 303.8L659.2 306.2L658.2 309.0L655.4 308.7L652.6 307.2L649.8 310.0L647.0 313.3L644.6 314.6L643.3 317.4L638.6 318.4L634.0 319.7L630.2 321.7ZM405.9 187.6L410.0 187.0L414.6 186.2L418.9 185.3L417.4 184.7L419.7 182.5L416.9 181.9L416.1 180.1L413.7 178.2L412.8 176.3L411.3 175.6L412.8 173.5L410.0 173.2L410.9 171.5L407.2 171.5L405.3 173.5L406.2 176.3L407.2 178.2L410.0 178.4L410.9 180.1L410.9 181.2L408.1 181.4L408.7 183.3L406.8 184.2L410.0 184.9L408.5 185.7ZM397.8 184.6L401.6 184.4L404.7 183.4L405.3 181.0L406.0 179.1L404.7 177.8L401.6 177.8L400.6 179.3L397.8 179.7L399.1 181.6L397.3 183.4ZM371.7 158.6L375.4 156.9L378.2 158.2L382.9 157.3L386.6 156.7L389.2 158.6L391.1 159.5L388.5 160.8L381.6 162.5L378.2 161.9L374.1 161.8L375.4 160.4L371.7 159.7L375.4 159.0ZM437.0 132.4L442.6 131.5L450.1 131.5L455.7 133.3L452.0 134.3L456.6 135.2L448.2 137.8L442.6 136.2L438.0 134.3ZM450.1 130.9L459.4 130.5L466.9 131.5L463.2 132.8L453.8 132.4ZM455.7 135.2L461.3 135.6L458.5 136.5ZM500.5 130.5L506.1 129.6L513.6 130.0L509.8 131.1ZM517.3 129.6L524.8 128.7L532.2 129.6L537.8 130.2L528.5 130.9L521.0 130.7ZM512.6 147.4L515.4 144.6L520.1 140.8L528.5 138.6L543.4 137.1L545.3 138.0L532.2 140.3L524.8 142.7L521.0 145.5L523.8 148.9L517.3 148.7ZM593.8 133.3L599.4 130.9L595.7 129.2L603.2 130.5L610.6 132.8L612.5 134.7L603.2 135.2L601.3 133.3ZM672.2 139.9L677.8 139.0L687.2 139.9L696.5 140.3L692.8 141.2L683.4 141.2L677.8 141.8L674.1 141.4ZM677.8 143.6L683.4 143.3L681.6 144.2ZM749.7 148.3L752.5 147.6L752.5 148.7ZM80.5 147.6L85.2 147.9L82.4 148.7L80.5 148.7ZM681.6 179.5L683.4 181.9L684.0 184.7L684.4 187.6L686.2 189.4L683.4 189.0L683.1 192.2L684.4 194.7L682.5 193.7L681.6 195.0L681.6 191.3L681.6 187.6L681.0 183.8ZM677.8 203.4L678.4 200.6L680.6 200.1L681.0 196.1L683.4 198.2L687.7 198.4L688.1 200.3L684.4 202.5L680.6 201.6L679.7 203.1ZM680.3 203.8L681.6 207.2L679.7 210.0L679.3 213.7L678.4 215.2L676.0 215.2L674.1 216.3L672.2 216.1L671.9 216.9L670.0 218.4L668.5 216.5L664.8 216.9L661.0 217.5L661.0 216.5L663.8 214.8L666.6 214.5L670.4 214.1L671.9 211.3L672.8 212.2L675.0 211.1L676.9 209.0L677.8 206.2L678.2 204.4ZM659.2 218.4L661.0 217.8L662.5 219.3L662.0 222.1L660.5 223.1L659.5 221.2L658.6 219.3ZM663.8 217.5L667.6 217.1L667.2 218.4L664.8 219.7L663.5 218.8ZM643.3 233.9L644.2 235.2L642.4 239.9L640.9 238.0L642.0 234.6ZM619.4 245.1L621.8 243.6L623.7 244.2L622.4 246.4L620.0 246.8ZM641.4 246.4L644.6 246.6L644.8 250.2L643.3 252.0L643.7 254.3L648.0 256.7L648.0 257.6L645.7 255.8L643.3 255.2L641.6 253.9L640.5 253.0L641.1 250.2ZM644.2 267.0L647.0 265.1L650.8 262.9L652.6 266.0L652.1 268.9L650.8 270.2L650.2 268.9L648.0 268.9L647.0 267.0L644.2 267.9ZM649.8 258.0L651.0 260.4L649.8 261.9L648.5 260.4L648.5 257.8ZM644.2 258.9L646.1 259.5L645.2 261.4L644.2 261.4ZM646.1 260.8L647.0 262.3L646.7 263.6L645.4 263.2ZM635.5 265.1L639.6 261.4L639.2 259.9L635.3 264.6ZM641.4 256.0L643.3 256.3L642.7 258.0L642.0 257.6ZM620.0 278.2L620.9 277.3L624.3 276.3L627.4 275.0L631.2 271.7L634.3 268.1L636.2 269.2L638.6 271.3L636.8 273.0L636.4 275.4L636.8 278.2L638.6 279.1L635.8 280.1L635.8 282.5L634.0 284.2L633.6 287.5L630.4 288.5L627.4 287.0L625.0 286.6L622.2 286.2L621.8 283.4L620.0 281.6ZM594.4 270.5L598.5 271.3L600.4 273.5L603.2 275.8L605.0 277.3L607.8 279.1L610.1 281.0L609.7 282.9L611.6 284.4L614.4 286.6L614.2 291.8L611.8 291.8L608.8 290.0L606.9 287.9L605.0 285.7L603.7 282.9L601.3 280.1L600.7 277.8L598.5 275.8L595.7 273.5ZM612.9 293.7L614.4 292.0L619.0 293.1L622.8 293.7L623.7 293.0L626.9 293.9L630.2 295.4L630.2 297.3L626.5 296.7L621.8 296.0L618.1 295.6L615.3 294.8ZM631.2 296.3L634.9 296.5L638.6 296.5L642.4 296.7L646.1 296.5L646.1 297.4L640.5 297.6L634.9 297.8L631.5 297.4ZM647.0 300.3L649.8 297.8L653.6 296.7L652.6 297.8L648.9 300.1ZM638.6 298.8L641.4 298.9L642.0 300.1L639.6 299.7ZM640.1 279.5L642.0 278.6L646.1 279.3L649.8 277.8L648.9 280.3L642.4 280.3L640.5 282.5L643.3 282.9L646.7 282.7L643.9 284.6L645.9 288.5L645.2 289.6L644.2 290.0L642.4 286.0L641.1 286.6L641.2 291.3L639.6 291.3L639.6 287.5L638.3 286.2ZM654.5 277.6L655.4 280.1L656.9 278.2L655.4 282.5L654.7 280.4ZM655.4 286.6L659.2 286.4L660.7 287.7L657.3 287.4ZM651.7 287.0L653.6 287.0L653.6 288.1L652.1 287.9ZM661.0 282.5L663.8 281.7L666.6 282.5L667.0 285.7L668.5 287.2L672.2 284.4L674.1 283.8L679.7 285.9L686.2 288.1L688.7 290.9L691.8 292.2L692.4 293.5L690.9 293.7L692.6 296.0L696.5 300.1L698.0 300.3L694.6 300.3L690.9 298.8L689.0 296.0L686.2 295.2L684.4 296.5L683.4 298.2L679.7 298.0L676.0 296.0L674.1 296.5L674.1 294.1L675.6 293.7L673.2 290.7L669.4 289.2L665.7 288.1L664.4 288.5L662.9 286.4L666.1 285.5L663.5 285.1L661.0 283.4ZM693.3 291.5L696.5 290.3L699.3 288.8L700.8 289.0L700.2 291.3L697.4 292.6L694.6 292.6ZM698.0 285.9L701.2 288.1L702.1 289.8L701.2 288.8ZM705.3 291.3L707.3 293.1L706.8 293.7ZM708.6 294.1L711.4 295.6L714.2 296.5L712.4 296.0ZM714.2 298.4L716.7 299.3L715.2 299.1ZM717.6 300.3L719.5 301.2L718.5 300.8ZM727.5 309.0L728.6 310.3L727.9 310.2ZM730.5 313.9L731.0 314.3L730.7 314.3ZM722.6 318.8L725.4 320.2L728.2 322.7L726.9 322.5L724.1 320.6ZM747.5 313.9L749.7 313.7L749.7 315.0L747.8 315.0ZM750.3 311.8L752.5 311.3L751.6 312.4ZM686.6 357.1L690.0 358.0L693.3 357.4L693.1 359.5L692.4 361.7L690.0 362.5L687.7 360.1ZM738.9 345.3L741.9 347.3L743.7 349.6L745.0 351.3L748.8 351.3L749.7 351.5L748.4 354.3L746.9 354.8L746.7 356.7L743.7 358.8L742.6 358.2L743.4 355.8L740.9 354.6L742.4 353.0L742.8 350.2L739.8 346.4ZM738.9 356.7L741.7 358.6L739.4 361.4L739.1 362.9L736.1 364.2L735.1 367.0L732.0 368.1L729.2 367.3L727.3 366.4L731.0 363.2L735.7 360.4L737.9 357.3ZM508.5 303.4L510.4 310.0L508.9 313.7L507.0 320.2L504.6 327.4L501.4 328.7L498.6 326.8L497.3 323.1L499.4 318.4L498.6 313.7L501.4 310.9L504.2 309.4L506.1 307.2ZM565.8 262.9L568.1 265.1L569.2 267.9L567.7 269.4L566.2 269.8L565.5 267.0L565.6 264.2ZM258.0 240.1L261.6 238.0L266.2 237.8L271.8 240.4L275.6 242.3L278.0 243.2L271.8 243.8L272.4 242.5L270.0 240.8L265.3 239.9L263.4 239.1L260.6 239.5ZM277.6 246.6L281.2 247.0L283.0 247.9L285.8 246.8L288.8 246.8L287.7 244.9L285.8 244.0L282.7 244.0L279.7 243.8L280.6 245.5L281.2 246.2ZM270.3 246.6L274.1 247.2L272.8 247.7L270.5 247.4ZM291.1 246.6L294.0 246.8L293.7 247.4L291.1 247.4ZM305.8 191.8L309.2 186.6L312.3 184.7L312.9 187.6L316.6 188.9L317.9 192.2L315.7 193.5L312.9 193.2L312.0 192.0ZM267.2 143.3L272.8 144.9L282.1 147.4L289.6 150.2L291.4 152.0L300.8 155.8L301.7 156.7L297.0 159.5L298.0 159.9L295.2 163.3L293.3 164.2L289.6 162.3L294.2 165.5L287.7 163.8L282.1 161.9L278.4 160.4L270.9 160.4L271.8 158.6L278.4 158.6L280.2 154.8L280.2 153.3L274.6 151.5L270.0 150.2L263.4 150.2L256.0 149.6L250.4 148.7L249.4 146.4L249.4 143.6L257.8 143.1L265.3 144.2ZM194.4 147.4L198.1 144.6L211.2 144.6L220.5 143.6L227.0 145.5L220.5 149.2L226.1 151.1L220.5 152.4L205.6 153.0L200.0 151.1L197.2 149.2ZM183.2 146.4L186.0 142.7L194.4 142.1L200.0 144.0L194.4 146.8L186.9 147.7ZM248.5 138.0L256.0 133.3L244.8 129.6L257.8 127.2L285.8 125.9L300.8 126.8L295.2 129.6L285.8 131.5L276.5 133.3L272.8 136.2L267.2 138.4L257.8 138.0ZM244.8 138.0L267.2 139.9L267.2 141.4L248.5 141.6L244.8 139.9ZM239.2 134.7L244.8 130.5L252.2 131.5L254.1 133.3L246.6 134.7ZM198.1 139.9L207.4 138.4L218.6 139.0L218.6 140.8L211.2 141.4L203.7 141.2ZM222.4 139.9L229.8 138.0L234.5 139.0L233.6 140.8L226.1 140.8ZM226.1 143.6L231.7 143.1L235.4 144.9L233.6 147.4L229.8 147.4L226.1 145.5ZM238.2 142.7L244.8 142.7L247.6 144.6L242.9 146.4L238.2 145.5ZM186.9 139.0L194.4 136.5L200.0 137.1L196.2 139.0L190.6 139.5ZM230.8 152.0L235.4 150.5L238.2 152.0L235.4 153.0ZM254.1 158.6L259.7 157.6L265.3 161.4L260.6 163.3L256.0 161.9ZM125.3 245.5L127.2 244.6L125.7 243.2ZM124.0 242.1L125.3 242.1L124.7 242.5ZM121.2 240.8L122.1 241.0L121.6 241.2ZM118.4 239.7L119.1 239.7L118.8 240.1ZM302.6 377.3L305.4 376.9L308.2 377.3L306.4 378.6L303.6 378.2ZM345.6 381.9L349.3 382.9L348.4 383.4ZM544.9 372.6L548.1 373.0L546.2 373.9ZM439.8 210.0L445.6 209.6L444.7 212.4L439.8 210.7ZM431.8 204.4L434.6 204.4L434.4 207.7L432.4 208.1ZM432.6 201.6L434.0 200.6L434.2 203.4L432.9 203.4ZM460.4 214.7L465.6 215.0L465.4 215.6L460.6 215.2ZM476.8 215.6L480.9 214.5L479.0 216.1ZM236.4 139.9L241.0 139.7L242.0 140.8L238.2 141.6ZM220.5 134.3L226.1 132.8L231.7 133.7L228.0 135.2L222.4 135.2ZM233.6 133.9L237.3 134.1L236.4 135.6L233.6 135.2ZM205.6 134.7L211.2 133.7L212.1 134.8ZM203.7 135.8L209.3 135.4L210.2 136.5L205.6 136.5ZM265.3 143.4L272.8 143.6L274.6 144.9L269.0 145.3L265.3 144.6ZM271.8 153.9L275.6 153.9L275.6 155.4L271.8 155.4ZM261.6 163.3L264.4 163.4L263.4 164.4L261.6 164.4ZM266.6 164.4L268.1 165.1L267.2 165.9ZM263.4 181.6L266.2 181.9L265.3 182.3ZM267.2 175.4L269.0 175.4L268.5 176.3ZM296.1 187.7L300.8 188.5L301.1 189.2L298.0 188.9ZM296.7 193.5L300.8 194.3L299.8 195.0L297.0 194.5ZM278.7 204.9L282.1 204.2L281.2 204.7ZM128.1 173.0L131.8 172.6L132.2 173.9L129.0 174.8ZM177.0 186.1L183.2 187.6L186.0 190.5L183.2 190.0L178.5 187.6ZM168.2 179.9L170.7 180.1L171.6 183.3L169.2 181.9ZM96.0 161.9L101.0 162.7L99.2 163.3L96.4 162.7ZM104.2 168.3L107.2 168.5L106.6 169.2L104.8 169.0ZM301.1 260.8L302.6 260.8L302.6 262.1L301.1 262.1ZM321.7 281.4L325.0 281.6L326.0 282.9L322.2 284.4ZM278.0 359.5L279.3 359.5L279.3 362.1L277.8 361.9ZM620.0 243.8L622.8 243.6L623.3 245.5L620.9 246.8L619.4 245.9ZM630.2 296.3L632.3 296.3L631.7 297.4L630.4 297.1ZM516.2 257.5L518.0 257.5L517.9 258.0L516.4 257.8ZM489.7 291.8L490.2 292.2L489.9 293.0ZM421.0 207.0L422.8 206.4L422.5 207.4ZM450.5 174.1L452.0 172.8L451.6 173.9ZM457.6 171.7L459.4 171.7L458.5 172.4ZM437.6 177.1L439.8 176.3L439.5 177.8L438.0 177.8ZM507.0 151.5L508.9 151.3L509.5 152.4L507.4 152.4ZM526.6 149.6L529.1 149.8L528.5 150.7L526.6 150.5ZM546.2 143.8L550.0 143.8L549.0 144.6L547.2 144.6ZM602.2 133.7L610.6 133.3L612.5 134.7L605.0 135.4ZM590.1 131.1L597.6 129.2L599.4 130.4L593.8 131.5ZM673.2 140.3L677.8 138.8L684.4 139.3L681.6 141.0L675.0 141.4ZM677.8 142.9L684.4 143.1L682.5 144.2L678.8 144.0ZM688.1 199.1L690.9 197.8L694.1 196.1L692.8 196.3L690.0 198.2ZM695.8 195.4L697.4 194.7L696.9 195.0ZM700.2 193.2L702.1 191.3L704.0 189.8L702.5 190.7ZM706.2 187.9L708.1 186.2L707.1 187.2ZM721.7 170.7L723.9 170.7L723.6 171.7ZM725.8 177.6L726.9 178.0L726.4 178.6ZM738.5 181.9L740.4 182.3L739.4 182.5ZM613.4 284.0L615.7 285.7L614.9 286.6L613.4 285.1ZM634.5 296.7L638.6 296.5L638.6 297.4L634.9 297.8ZM640.3 296.7L646.1 296.5L645.7 297.4L640.5 297.4ZM648.7 259.7L649.8 260.1L650.2 261.9L649.3 261.9ZM646.8 260.1L648.0 260.4L647.0 263.2ZM647.6 262.1L648.9 262.1L648.5 263.1ZM646.5 257.6L648.0 258.4L647.0 258.8ZM667.0 291.3L668.1 291.8L667.6 293.7L666.8 292.8ZM661.4 294.6L662.5 294.8L662.0 296.0ZM669.4 282.5L670.9 282.9L670.4 283.2ZM690.2 284.7L691.6 284.7L690.9 285.1ZM714.4 298.4L716.7 298.9L715.7 299.5ZM716.3 296.7L717.8 298.6L717.0 298.4ZM708.6 293.5L710.7 294.8L709.6 294.6ZM711.8 295.0L714.8 296.7L713.3 296.3ZM749.7 312.4L752.5 311.5L752.1 312.4L750.3 312.8ZM727.5 308.7L728.6 309.4L728.2 310.3L727.5 309.8ZM730.5 313.9L731.0 314.1L730.7 314.5ZM732.5 317.3L732.9 317.6L732.5 317.8ZM684.9 355.0L685.5 355.2L685.3 355.9ZM729.2 368.5L730.5 368.7L730.1 369.4ZM659.9 224.2L660.3 224.4L660.1 224.6ZM288.6 379.3L294.8 383.4L291.4 384.4L285.8 383.8L284.0 381.9L285.8 380.1ZM367.0 389.0L367.4 390.1ZM314.8 151.5L319.4 151.1L319.4 149.8L314.8 149.8ZM448.2 131.7L453.8 130.4L465.0 130.7L466.9 131.7L459.4 133.0L451.0 132.8ZM454.8 134.1L458.5 134.1L457.6 134.8L455.3 134.8ZM476.2 131.1L479.0 131.1L478.1 131.5ZM504.2 129.8L509.8 129.8L515.4 130.9L506.1 131.3ZM519.2 129.1L524.8 128.1L534.1 128.5L537.8 129.6L532.2 130.4L522.9 130.2ZM522.9 130.9L528.5 130.7L527.6 131.7L523.8 131.5ZM80.0 428.0L110.0 428.0L120.0 426.4L136.0 424.4L148.0 422.0L164.0 420.0L184.0 418.4L204.0 419.6L220.0 421.0L224.0 417.0L228.0 415.6L240.0 417.0L270.0 417.0L272.0 415.6L282.0 417.0L276.0 412.0L288.0 406.0L296.0 402.0L306.0 399.0L313.0 399.0L306.0 401.0L303.0 406.0L302.0 412.0L302.0 420.0L310.0 424.4L324.0 426.4L340.0 427.6L352.0 425.6L368.0 421.0L380.0 418.0L392.0 414.4L400.0 413.0L412.0 411.6L415.0 410.0L418.0 412.0L440.0 412.0L444.0 410.4L450.0 411.6L468.0 411.6L480.0 409.6L488.0 412.0L496.0 409.0L506.0 407.0L514.0 404.4L520.0 405.0L528.0 408.0L540.0 408.0L552.0 410.0L560.0 411.0L568.0 407.0L569.0 404.4L580.0 405.0L594.0 405.0L596.0 403.0L612.0 404.0L620.0 406.0L626.0 404.4L640.0 406.0L656.0 406.0L660.0 404.4L669.0 404.0L669.6 402.6L672.0 405.0L688.0 406.0L692.0 408.4L704.0 410.0L716.0 412.0L728.0 414.0L735.0 416.0L732.0 419.0L722.0 422.0L720.0 425.0L724.0 426.4L732.0 425.6L752.5 427.0M80.0 430.4L88.0 430.4M745.0 430.0L752.5 430.0M476.0 281.5L478.0 280.6L480.3 281.5L480.6 283.5L479.0 285.0L476.8 284.8L475.8 283.0ZM469.7 203.8L470.6 204.0L475.3 204.0L479.0 202.5L481.8 202.5L484.6 203.8L488.4 204.4L494.0 203.4L494.0 201.2L490.8 199.7L487.4 197.8L485.6 196.5L487.8 195.0L489.7 192.8L486.5 193.5L482.4 194.5L482.8 196.1L479.0 197.8L477.2 196.0L479.0 195.0L475.9 193.9L473.4 194.7L471.9 196.5L470.1 198.8L468.8 200.6L468.4 202.5ZM504.2 196.9L508.0 194.1L511.7 193.2L515.4 194.1L515.4 196.3L512.1 196.9L510.8 197.8L512.6 200.6L514.5 201.6L515.1 203.4L517.3 204.4L515.4 206.2L516.4 208.1L517.3 211.3L513.6 212.2L509.8 211.1L508.0 209.0L508.9 205.7L507.0 202.9L505.2 200.6L504.2 198.8ZM525.7 194.1L528.5 193.7L531.3 195.0L530.4 197.8L527.6 199.7L525.3 197.8ZM244.8 193.7L252.2 190.4L257.8 192.2L258.8 194.1L254.1 194.1L248.5 193.7ZM252.6 202.5L255.4 202.5L257.8 195.4L254.1 195.6ZM259.7 195.0L264.4 195.0L267.2 197.8L264.0 200.6L262.5 200.6L260.6 198.8L261.0 196.5ZM261.0 203.1L269.0 201.0L267.2 202.1L262.5 203.6ZM267.5 200.1L274.3 198.8L273.7 199.7L269.0 200.3ZM108.9 179.0L102.9 181.0L95.4 182.9L88.0 184.2M82.4 184.7L80.5 184.7M553.7 195.0L556.5 193.5L564.0 194.1M610.6 184.6L614.4 182.9L619.0 180.1L621.8 176.9M375.4 149.6L368.0 149.2L364.2 149.8L369.8 148.3L375.4 147.4M375.4 146.4L369.8 145.9L366.1 144.9L371.7 144.6L375.4 143.6M380.1 140.8L375.4 139.9L379.2 139.0L377.3 138.0M360.5 153.5L356.8 153.0L358.6 154.3M316.6 156.7L321.3 156.2L317.6 155.2L322.2 154.3L316.6 153.0M320.4 160.4L323.2 160.8L321.3 161.4M339.0 163.3L337.2 163.8L338.1 166.1M382.9 131.5L375.4 130.9L371.7 131.5M392.2 128.7L382.9 129.1L375.4 128.7M660.1 224.2L659.2 225.9M658.2 227.9L657.7 228.7M655.8 230.9L654.9 232.0M650.4 234.6L650.2 234.8M648.5 235.2L647.6 235.6M552.8 267.9L552.8 269.4M553.3 271.1L553.3 273.2M553.5 274.6L553.5 276.9M553.1 280.1L553.1 282.1M552.4 260.1L552.4 261.9M552.8 265.3L552.8 265.7M589.7 255.8L589.5 258.6L589.4 259.5M589.2 261.0L589.2 261.4M591.6 267.5L591.4 268.3M589.7 263.8L589.7 264.0M301.7 250.5L302.3 252.0L302.6 253.5L302.6 255.2L302.3 256.3L301.5 258.4M305.2 256.3L305.4 256.5M295.5 246.8L295.9 246.8M298.9 247.2L299.3 248.5M270.0 231.1L271.8 231.3M271.3 234.3L270.9 235.6M272.2 231.8L272.8 232.4M274.3 233.9L274.3 234.8M275.9 235.8L275.6 236.9M277.4 238.0L276.5 237.6M278.9 238.9L280.2 239.1M279.3 241.8L279.9 241.4M471.0 287.5L471.6 290.3L472.1 293.1L473.8 296.5M480.3 299.1L480.9 301.6L481.3 304.4L481.8 307.2M483.7 273.0L484.1 275.4L484.6 276.1M474.2 276.9L474.9 278.2M471.0 284.2L470.8 285.3M469.7 297.8L470.3 298.4M477.2 310.3L474.4 310.2M442.6 255.8L444.1 256.1L443.6 257.1L442.3 256.7M183.2 157.6L186.9 156.0L192.5 156.5L196.2 157.3L193.4 158.6L189.7 158.4L186.0 158.8M198.1 167.0L201.8 165.1L207.4 163.8L212.1 164.2L208.4 165.7L202.8 167.0M231.7 180.4L233.9 181.9L235.4 185.3L232.8 183.8M207.4 170.7L213.0 170.4L211.2 171.3M223.3 172.6L226.1 173.9L225.5 175.4M228.9 182.9L229.8 184.2M227.0 174.1L226.1 174.5M239.2 188.9L240.5 189.8M275.6 157.3L280.2 156.7L283.0 157.6M284.0 159.5L287.7 159.0M278.4 178.2L280.2 177.8M285.8 180.8L288.6 180.4M281.2 190.4L282.7 190.0M297.0 180.6L298.9 181.0M203.7 204.0L206.9 203.4L206.9 204.7M473.1 168.9L475.3 166.6L478.1 167.6L475.3 168.9M480.9 167.0L482.8 164.6L483.7 166.1M440.8 171.7L441.7 170.4L442.6 171.1M443.2 172.0L443.9 173.0M603.2 184.2L604.1 185.7M561.2 199.7L558.9 201.9L562.7 201.6L561.2 199.7M500.5 209.0L501.8 210.9M496.8 209.0L497.9 208.5M602.8 211.8L604.1 212.2M633.6 226.4L634.0 226.8M626.5 226.4L627.4 226.2M530.4 204.4L532.2 203.4M545.3 208.1L547.2 208.5M285.8 310.0L287.1 311.3M256.3 258.6L257.8 260.1" fill="none" stroke="#000" stroke-width="1.1" stroke-linejoin="round"/>
<path d="M113.2 270.0h1.0v1.0h-1.0ZM122.0 277.0h2.0v2.0h-2.0ZM93.2 285.8h1.0v1.0h-1.0ZM97.0 287.8h1.0v1.0h-1.0ZM94.5 297.8h1.0v1.0h-1.0ZM115.5 299.2h1.5v1.5h-1.5ZM120.5 297.2h1.5v1.5h-1.5ZM92.8 305.8h2.0v2.0h-2.0ZM98.2 315.8h1.0v1.0h-1.0ZM88.0 319.8h1.5v1.5h-1.5ZM133.0 311.8h1.5v1.5h-1.5ZM136.0 312.8h2.0v2.0h-2.0ZM142.2 307.2h1.5v1.5h-1.5ZM144.5 312.5h1.0v1.0h-1.0ZM145.0 317.5h1.0v1.0h-1.0ZM153.8 310.8h1.0v1.0h-1.0ZM154.2 296.8h1.5v1.5h-1.5ZM156.8 298.5h1.5v1.5h-1.5ZM153.2 317.0h1.0v1.0h-1.0ZM153.2 320.8h1.0v1.0h-1.0ZM162.2 320.5h1.5v1.5h-1.5ZM160.0 323.8h1.0v1.0h-1.0ZM172.8 327.5h1.0v1.0h-1.0ZM183.2 327.0h1.0v1.0h-1.0ZM211.2 330.5h1.5v1.5h-1.5ZM86.2 362.2h1.5v1.5h-1.5ZM205.2 247.0h1.0v1.0h-1.0ZM195.0 226.5h1.0v1.0h-1.0ZM244.5 280.0h2.0v2.0h-2.0ZM246.5 281.5h2.0v2.0h-2.0ZM248.8 282.2h1.5v1.5h-1.5ZM686.2 254.2h1.5v1.5h-1.5ZM727.2 259.2h1.5v1.5h-1.5ZM728.2 263.2h1.5v1.5h-1.5ZM735.0 264.0h2.0v2.0h-2.0ZM668.2 266.2h1.5v1.5h-1.5ZM674.5 262.5h1.0v1.0h-1.0ZM699.5 267.5h1.0v1.0h-1.0ZM703.5 269.5h1.0v1.0h-1.0ZM711.5 267.5h1.0v1.0h-1.0ZM720.2 270.2h1.5v1.5h-1.5ZM732.5 268.5h1.0v1.0h-1.0ZM738.5 276.5h1.0v1.0h-1.0ZM727.5 281.5h1.0v1.0h-1.0ZM732.5 281.5h1.0v1.0h-1.0ZM741.1 281.1h1.0v1.0h-1.0ZM690.0 284.0h2.0v2.0h-2.0ZM715.2 302.2h1.5v1.5h-1.5ZM725.5 300.5h1.0v1.0h-1.0ZM703.5 234.5h1.0v1.0h-1.0ZM688.2 242.5h1.0v1.0h-1.0ZM688.2 247.0h1.0v1.0h-1.0ZM727.0 243.2h1.0v1.0h-1.0ZM739.5 180.5h1.0v1.0h-1.0ZM744.2 181.8h1.5v1.5h-1.5ZM750.2 183.2h1.5v1.5h-1.5ZM356.8 211.2h1.5v1.5h-1.5ZM360.2 209.8h1.5v1.5h-1.5ZM363.2 208.8h1.5v1.5h-1.5ZM367.0 207.5h2.0v2.0h-2.0ZM369.5 207.5h1.0v1.0h-1.0ZM294.8 219.8h1.5v1.5h-1.5ZM384.8 218.8h1.5v1.5h-1.5ZM389.2 227.2h1.5v1.5h-1.5ZM391.2 228.2h1.5v1.5h-1.5ZM393.8 226.2h1.5v1.5h-1.5ZM386.5 229.0h1.0v1.0h-1.0ZM371.8 249.8h1.5v1.5h-1.5ZM374.2 251.2h1.5v1.5h-1.5ZM372.2 253.2h1.5v1.5h-1.5ZM375.5 249.0h1.0v1.0h-1.0ZM401.8 164.2h1.5v1.5h-1.5ZM403.5 165.0h1.0v1.0h-1.0ZM413.6 164.8h1.5v1.5h-1.5ZM414.5 163.5h1.0v1.0h-1.0ZM409.5 169.5h1.0v1.0h-1.0ZM406.5 172.0h1.0v1.0h-1.0ZM518.5 288.5h1.0v1.0h-1.0ZM519.2 318.8h1.5v1.5h-1.5ZM523.0 318.0h1.5v1.5h-1.5ZM545.0 371.5h3.0v3.0h-3.0ZM486.0 368.0h1.5v1.5h-1.5ZM497.0 300.0h1.0v1.0h-1.0ZM498.2 301.8h1.5v1.5h-1.5ZM500.5 304.0h1.0v1.0h-1.0ZM502.5 303.0h1.0v1.0h-1.0ZM367.0 389.5h1.0v1.0h-1.0ZM246.0 408.8h1.5v1.5h-1.5ZM329.0 392.8h2.0v2.0h-2.0ZM726.0 374.8h1.5v1.5h-1.5ZM723.2 406.5h1.0v1.0h-1.0ZM345.0 382.1h1.0v1.0h-1.0ZM568.5 306.5h1.0v1.0h-1.0ZM499.5 255.5h1.0v1.0h-1.0ZM400.2 131.8h1.5v1.5h-1.5ZM642.5 238.5h1.0v1.0h-1.0ZM646.0 235.5h1.0v1.0h-1.0ZM649.5 232.5h1.0v1.0h-1.0ZM652.5 230.0h1.0v1.0h-1.0ZM656.0 227.0h1.0v1.0h-1.0ZM659.0 225.0h1.0v1.0h-1.0ZM413.8 264.8h2.5v2.5h-2.5ZM414.5 267.0h2.0v2.0h-2.0ZM415.8 264.2h1.5v1.5h-1.5ZM426.2 276.2h1.5v1.5h-1.5ZM427.8 279.2h1.5v1.5h-1.5ZM428.5 282.5h1.0v1.0h-1.0Z" fill="#000" stroke="none" shape-rendering="crispEdges"/>
<path d="M278.4 361.4L276.5 367.0L275.9 372.6L276.9 377.3L279.3 380.6L283.0 382.5" fill="none" stroke="#000" stroke-width="2.6" stroke-linejoin="round" stroke-linecap="round"/>
<path d="M282.1 381.9L285.8 383.8L289.6 384.5L292.4 384.2" fill="none" stroke="#000" stroke-width="2.2" stroke-linejoin="round" stroke-linecap="round"/>
<path d="M284.9 379.5L286.8 381.0L284.9 381.9" fill="none" stroke="#000" stroke-width="1.8" stroke-linejoin="round" stroke-linecap="round"/>
<path d="M162.6 172.6L166.4 174.8L169.2 177.3L172.0 179.1L174.8 181.9L177.6 184.2L181.3 187.0" fill="none" stroke="#000" stroke-width="2.0" stroke-linejoin="round" stroke-linecap="round"/>
<path d="M289.6 407.2L292.4 404.4L296.1 402.5L300.8 400.6L305.4 398.7L310.1 397.3" fill="none" stroke="#000" stroke-width="1.8" stroke-linejoin="round" stroke-linecap="round"/>
<path d="M300.8 398.4L306.4 396.9L309.2 396.3" fill="none" stroke="#000" stroke-width="1.6" stroke-linejoin="round" stroke-linecap="round"/>
<path d="M425.8 167.0L427.7 164.6L431.4 162.7L436.1 160.8L439.8 158.6L441.7 155.8L444.5 153.3L448.2 151.7L453.8 150.2L459.4 148.9" fill="none" stroke="#000" stroke-width="1.8" stroke-linejoin="round" stroke-linecap="round"/>
<path d="M440.8 153.9L443.6 153.0L446.4 152.0" fill="none" stroke="#000" stroke-width="1.6" stroke-linejoin="round" stroke-linecap="round"/>
<path d="M437.0 132.4L438.9 134.3L442.6 136.2L447.3 137.5" fill="none" stroke="#000" stroke-width="2.0" stroke-linejoin="round" stroke-linecap="round"/>
<path d="M442.6 132.0L448.2 132.8L452.0 134.3L450.1 135.8" fill="none" stroke="#000" stroke-width="2.0" stroke-linejoin="round" stroke-linecap="round"/>
<path d="M448.2 131.1L455.7 130.9L463.2 131.1L466.0 132.2" fill="none" stroke="#000" stroke-width="1.8" stroke-linejoin="round" stroke-linecap="round"/>
<path d="M455.7 134.5L459.4 135.4" fill="none" stroke="#000" stroke-width="1.6" stroke-linejoin="round" stroke-linecap="round"/>
<path d="M660.7 222.5L662.0 219.3L661.0 217.5L664.8 216.7L668.5 216.5L671.9 216.3L675.0 216.0L677.8 215.0L679.3 212.8L679.7 209.4L681.2 206.6L680.3 204.4" fill="none" stroke="#000" stroke-width="1.6" stroke-linejoin="round" stroke-linecap="round"/>
<path d="M641.1 286.6L641.2 291.1" fill="none" stroke="#000" stroke-width="1.5" stroke-linejoin="round" stroke-linecap="round"/>
<path d="M642.4 285.9L644.8 289.4" fill="none" stroke="#000" stroke-width="1.5" stroke-linejoin="round" stroke-linecap="round"/>
<path d="M640.5 279.9L642.4 279.1L646.1 279.5L649.5 278.4" fill="none" stroke="#000" stroke-width="1.5" stroke-linejoin="round" stroke-linecap="round"/>
<path d="M405.3 173.0L406.2 175.4L406.6 177.3" fill="none" stroke="#000" stroke-width="2.0" stroke-linejoin="round" stroke-linecap="round"/>
<path d="M108.5 165.1L110.4 162.9L115.0 162.1L115.0 160.4L108.5 160.3L103.8 158.6" fill="none" stroke="#000" stroke-width="1.6" stroke-linejoin="round" stroke-linecap="round"/>
<path d="M106.6 157.3L112.2 156.7L114.1 155.8L108.5 153.5" fill="none" stroke="#000" stroke-width="1.6" stroke-linejoin="round" stroke-linecap="round"/>
<path d="M114.1 170.7L119.7 171.5L122.5 171.3" fill="none" stroke="#000" stroke-width="1.6" stroke-linejoin="round" stroke-linecap="round"/>
<path d="M131.8 169.8L134.6 167.9L138.4 168.9L141.2 167.4L144.0 167.7" fill="none" stroke="#000" stroke-width="1.6" stroke-linejoin="round" stroke-linecap="round"/>
<path d="M460.4 210.0L461.3 208.1L459.4 206.2L461.3 205.3L465.0 204.9" fill="none" stroke="#000" stroke-width="1.5" stroke-linejoin="round" stroke-linecap="round"/>
<path d="M466.0 209.4L466.9 211.8" fill="none" stroke="#000" stroke-width="1.5" stroke-linejoin="round" stroke-linecap="round"/>
<path d="M317.6 193.2L315.7 192.2L312.9 192.6L312.0 191.3" fill="none" stroke="#000" stroke-width="1.6" stroke-linejoin="round" stroke-linecap="round"/>
<path d="M552.8 267.5L552.8 270.2" fill="none" stroke="#000" stroke-width="1.8" stroke-linejoin="round" stroke-linecap="round"/>
<path d="M553.3 271.3L553.3 273.9" fill="none" stroke="#000" stroke-width="1.8" stroke-linejoin="round" stroke-linecap="round"/>
<path d="M553.5 275.0L553.5 277.6" fill="none" stroke="#000" stroke-width="1.8" stroke-linejoin="round" stroke-linecap="round"/>
<path d="M553.1 280.3L553.1 282.3" fill="none" stroke="#000" stroke-width="1.6" stroke-linejoin="round" stroke-linecap="round"/>
<path d="M552.4 259.5L552.4 261.7" fill="none" stroke="#000" stroke-width="1.6" stroke-linejoin="round" stroke-linecap="round"/>
<path d="M552.8 265.1L552.8 266.0" fill="none" stroke="#000" stroke-width="1.6" stroke-linejoin="round" stroke-linecap="round"/>
<path d="M471.2 287.5L471.8 290.3L472.3 293.1L473.8 296.5" fill="none" stroke="#000" stroke-width="1.6" stroke-linejoin="round" stroke-linecap="round"/>
<path d="M480.3 299.1L480.9 301.6L481.3 304.4L481.8 307.2" fill="none" stroke="#000" stroke-width="1.6" stroke-linejoin="round" stroke-linecap="round"/>
<path d="M274.3 207.5L273.9 210.0L274.4 211.7" fill="none" stroke="#000" stroke-width="2.4" stroke-linejoin="round" stroke-linecap="round"/>
<path d="M275.6 207.0L276.3 208.5" fill="none" stroke="#000" stroke-width="1.8" stroke-linejoin="round" stroke-linecap="round"/>
<path d="M284.0 193.5L287.7 191.3L292.4 189.0L295.2 188.9" fill="none" stroke="#000" stroke-width="1.8" stroke-linejoin="round" stroke-linecap="round"/>
<path d="M293.3 196.9L296.1 196.0L298.0 195.2" fill="none" stroke="#000" stroke-width="1.8" stroke-linejoin="round" stroke-linecap="round"/>
<path d="M244.8 193.7L252.2 190.4L257.8 192.2L258.8 194.1L254.1 194.1L248.5 193.7L244.8 193.7" fill="none" stroke="#000" stroke-width="1.7" stroke-linejoin="round" stroke-linecap="round"/>
<path d="M252.6 202.5L255.4 202.5L257.8 195.4L254.1 195.6L252.6 202.5" fill="none" stroke="#000" stroke-width="1.6" stroke-linejoin="round" stroke-linecap="round"/>
<path d="M259.7 195.0L264.4 195.0L267.2 197.8L264.0 200.6L262.5 200.6L260.6 198.8L261.0 196.5L259.7 195.0" fill="none" stroke="#000" stroke-width="1.6" stroke-linejoin="round" stroke-linecap="round"/>
<path d="M261.0 203.1L269.0 201.0" fill="none" stroke="#000" stroke-width="1.8" stroke-linejoin="round" stroke-linecap="round"/>
<path d="M267.5 199.9L274.3 198.8" fill="none" stroke="#000" stroke-width="1.6" stroke-linejoin="round" stroke-linecap="round"/>
<path d="M270.9 234.3L271.3 235.8" fill="none" stroke="#000" stroke-width="1.6" stroke-linejoin="round" stroke-linecap="round"/>
<path d="M270.3 231.3L272.2 231.7" fill="none" stroke="#000" stroke-width="1.6" stroke-linejoin="round" stroke-linecap="round"/>
<path d="M304.5 195.0L302.6 196.3L298.0 197.8L294.2 199.5" fill="none" stroke="#000" stroke-width="1.6" stroke-linejoin="round" stroke-linecap="round"/>
<path d="M186.9 190.7L186.9 188.9L184.1 187.6" fill="none" stroke="#000" stroke-width="1.6" stroke-linejoin="round" stroke-linecap="round"/>
<path d="M202.8 223.1L204.6 226.8L207.4 230.9L210.2 235.2L211.2 237.5" fill="none" stroke="#000" stroke-width="2.2" stroke-linejoin="round" stroke-linecap="round"/>
<path d="M258.8 239.9L262.5 238.4L267.2 238.4L270.9 240.3L274.6 242.7L277.4 243.2" fill="none" stroke="#000" stroke-width="2.0" stroke-linejoin="round" stroke-linecap="round"/>
<path d="M279.3 244.2L282.1 244.0L285.8 244.4" fill="none" stroke="#000" stroke-width="1.6" stroke-linejoin="round" stroke-linecap="round"/>
<path d="M278.4 246.4L282.1 246.8" fill="none" stroke="#000" stroke-width="1.6" stroke-linejoin="round" stroke-linecap="round"/>
<path d="M613.4 293.1L618.1 294.1L622.8 294.5L626.5 295.0L629.9 296.0" fill="none" stroke="#000" stroke-width="1.8" stroke-linejoin="round" stroke-linecap="round"/>
<path d="M631.2 296.9L634.9 297.1L638.6 297.1L642.4 297.1L646.1 296.9" fill="none" stroke="#000" stroke-width="1.6" stroke-linejoin="round" stroke-linecap="round"/>
<path d="M647.4 299.7L649.8 298.2L653.2 297.1" fill="none" stroke="#000" stroke-width="1.6" stroke-linejoin="round" stroke-linecap="round"/>
<path d="M594.8 271.1L597.6 273.9L600.9 277.3L604.1 281.0L606.0 284.7L608.8 288.5L612.1 291.5" fill="none" stroke="#000" stroke-width="1.5" stroke-linejoin="round" stroke-linecap="round"/>
<path d="M601.3 279.1L600.4 281.0L602.2 283.8L603.7 286.2" fill="none" stroke="#000" stroke-width="1.5" stroke-linejoin="round" stroke-linecap="round"/>
<polygon points="643,254 646,252 649,254 651.5,258 652,263 650,267 647,268.5 645,266 646.5,262 645,258" fill="#111"/>
<path d="M246.0 129.7L248.6 127.9L251.2 129.5L253.8 128.7L256.4 129.9L259.0 128.0L261.6 129.4L264.2 128.6L266.8 130.0L269.4 128.2L272.0 129.2L274.6 128.4L277.2 130.1L279.8 128.4L282.4 129.2L285.0 128.2L287.6 130.0L290.2 128.6L292.8 129.3L295.4 128.0L298.0 129.9M248.0 130.3L250.6 131.9L253.2 131.1L255.8 132.3L258.4 130.4L261.0 131.8L263.6 131.0L266.2 132.4L268.8 130.6L271.4 131.6L274.0 130.8L276.6 132.5L279.2 130.8L281.8 131.6L284.4 130.6L287.0 132.4L289.6 131.0M206.0 134.5L208.6 133.7L211.2 134.9M220.0 133.1L222.6 134.3L225.2 132.4L227.8 133.8L230.4 133.0L233.0 134.4L235.6 132.6L238.2 133.6L240.8 132.8L243.4 134.5L246.0 132.8M222.0 136.3L224.6 134.4L227.2 135.8L229.8 135.0L232.4 136.4L235.0 134.6L237.6 135.6L240.2 134.8L242.8 136.5L245.4 134.8M248.0 133.6L250.6 135.0L253.2 134.2L255.8 135.6L258.4 133.8L261.0 134.8L263.6 134.0L266.2 135.7L268.8 134.0L271.4 134.8L274.0 133.8M182.0 139.0L184.6 138.2L187.2 139.6L189.8 137.8M200.0 137.6L202.6 139.0L205.2 137.2L207.8 138.2L210.4 137.4L213.0 139.1L215.6 137.4L218.2 138.2M226.0 139.6L228.6 137.8L231.2 138.8L233.8 138.0L236.4 139.7L239.0 138.0M246.0 137.2L248.6 138.2L251.2 137.4L253.8 139.1L256.4 137.4L259.0 138.2L261.6 137.2L264.2 139.0L266.8 137.6L269.4 138.3L272.0 137.0L274.6 138.9M284.0 138.8L286.6 138.0L289.2 139.7L291.8 138.0L294.4 138.8M182.0 142.4L184.6 144.1M192.0 143.7L194.6 142.0L197.2 142.8L199.8 141.8M214.0 142.8L216.6 143.6L219.2 142.6L221.8 144.4M226.0 142.2L228.6 141.2L231.2 143.0L233.8 141.6L236.4 142.3L239.0 141.0M228.0 143.8L230.6 145.6L233.2 144.2L235.8 144.9L238.4 143.6M248.0 144.0L250.6 142.6L253.2 143.3L255.8 142.0L258.4 143.9L261.0 142.7L263.6 143.5M268.0 143.6L270.6 144.3L273.2 143.0L275.8 144.9L278.4 143.7M236.0 150.3L238.6 149.0M248.0 148.0L250.6 149.9L253.2 148.7L255.8 149.5L258.4 147.9L261.0 149.7L263.6 148.8M250.0 152.9L252.6 151.7L255.2 152.5L257.8 150.9L260.4 152.7M272.0 150.7L274.6 151.5L277.2 149.9L279.8 151.7M184.0 157.5L186.6 155.9L189.2 157.7L191.8 156.8L194.4 157.8M196.0 162.9L198.6 164.7L201.2 163.8L203.8 164.8M208.0 169.7L210.6 168.8L213.2 169.8L215.8 167.9M200.0 140.4L202.6 141.4L205.2 139.5L207.8 141.1L210.4 140.3L213.0 141.6L215.6 139.7M250.0 141.4L252.6 139.5L255.2 141.1L257.8 140.3L260.4 141.6L263.0 139.7L265.6 140.9L268.2 140.1L270.8 141.7M252.0 144.9L254.6 146.5L257.2 145.7L259.8 147.0L262.4 145.1L265.0 146.3L267.6 145.5" fill="none" stroke="#000" stroke-width="1.2" stroke-linejoin="round"/>
</g>
<path d="M80.5 112.5v7M80.5 449.5v-7M99.2 112.5v4M99.2 449.5v-4M117.8 112.5v4M117.8 449.5v-4M136.5 112.5v4M136.5 449.5v-4M155.2 112.5v4M155.2 449.5v-4M173.8 112.5v4M173.8 449.5v-4M192.5 112.5v7M192.5 449.5v-7M211.2 112.5v4M211.2 449.5v-4M229.8 112.5v4M229.8 449.5v-4M248.5 112.5v4M248.5 449.5v-4M267.2 112.5v4M267.2 449.5v-4M285.8 112.5v4M285.8 449.5v-4M304.5 112.5v7M304.5 449.5v-7M323.2 112.5v4M323.2 449.5v-4M341.8 112.5v4M341.8 449.5v-4M360.5 112.5v4M360.5 449.5v-4M379.2 112.5v4M379.2 449.5v-4M397.8 112.5v4M397.8 449.5v-4M416.5 112.5v7M416.5 449.5v-7M435.2 112.5v4M435.2 449.5v-4M453.8 112.5v4M453.8 449.5v-4M472.5 112.5v4M472.5 449.5v-4M491.2 112.5v4M491.2 449.5v-4M509.8 112.5v4M509.8 449.5v-4M528.5 112.5v7M528.5 449.5v-7M547.2 112.5v4M547.2 449.5v-4M565.8 112.5v4M565.8 449.5v-4M584.5 112.5v4M584.5 449.5v-4M603.2 112.5v4M603.2 449.5v-4M621.8 112.5v4M621.8 449.5v-4M640.5 112.5v7M640.5 449.5v-7M659.2 112.5v4M659.2 449.5v-4M677.8 112.5v4M677.8 449.5v-4M696.5 112.5v4M696.5 449.5v-4M715.2 112.5v4M715.2 449.5v-4M733.8 112.5v4M733.8 449.5v-4M752.5 112.5v7M752.5 449.5v-7M80.5 112.8h4M752.5 112.8h-4M80.5 131.5h7M752.5 131.5h-7M80.5 150.2h4M752.5 150.2h-4M80.5 168.9h4M752.5 168.9h-4M80.5 187.6h4M752.5 187.6h-4M80.5 206.2h7M752.5 206.2h-7M80.5 224.9h4M752.5 224.9h-4M80.5 243.6h4M752.5 243.6h-4M80.5 262.3h4M752.5 262.3h-4M80.5 281.0h7M752.5 281.0h-7M80.5 299.7h4M752.5 299.7h-4M80.5 318.4h4M752.5 318.4h-4M80.5 337.1h4M752.5 337.1h-4M80.5 355.8h7M752.5 355.8h-7M80.5 374.5h4M752.5 374.5h-4M80.5 393.2h4M752.5 393.2h-4M80.5 411.8h4M752.5 411.8h-4M80.5 430.5h7M752.5 430.5h-7M80.5 449.2h4M752.5 449.2h-4" stroke="#000" stroke-width="1" fill="none" shape-rendering="crispEdges"/>
<rect x="80.5" y="112.5" width="672" height="337" fill="none" stroke="#000" stroke-width="1" shape-rendering="crispEdges"/>
<g font-family="'Liberation Serif', serif" fill="#000" stroke="#000" stroke-width="0.45" stroke-linejoin="round">
<text x="417" y="79.7" font-size="31.8" text-anchor="middle" stroke-width="0.6">Atmos Sea Ice Concentration</text>
<text x="416.5" y="101.8" font-size="17.8" text-anchor="middle">02.5kyr BP - 03.0kyr BP</text>
<text x="80.5" y="108.6" font-size="17.7">Expt = teaed-teadd</text>
<text x="753.3" y="105.7" font-size="17.7" text-anchor="end">DJF</text>
<text x="70.3" y="136.7" font-size="15" text-anchor="end">80N</text>
<text x="70.3" y="211.4" font-size="15" text-anchor="end">40N</text>
<text x="70.3" y="286.2" font-size="15" text-anchor="end">0</text>
<text x="70.3" y="361.0" font-size="15" text-anchor="end">40S</text>
<text x="70.3" y="435.7" font-size="15" text-anchor="end">80S</text>
<text x="80.5" y="468.8" font-size="15" text-anchor="middle">180</text>
<text x="191.5" y="468.8" font-size="15" text-anchor="middle">120W</text>
<text x="303.5" y="468.8" font-size="15" text-anchor="middle">60W</text>
<text x="416.5" y="468.8" font-size="15" text-anchor="middle">0</text>
<text x="528.5" y="468.8" font-size="15" text-anchor="middle">60E</text>
<text x="640.5" y="468.8" font-size="15" text-anchor="middle">120E</text>
<text x="752.5" y="468.8" font-size="15" text-anchor="middle">180</text>
<rect x="82.50" y="492.5" width="35.66" height="13.0" fill="#7a00dc" stroke="none"/>
<rect x="117.66" y="492.5" width="35.66" height="13.0" fill="#4a00dc" stroke="none"/>
<rect x="152.82" y="492.5" width="35.66" height="13.0" fill="#2222dc" stroke="none"/>
<rect x="187.97" y="492.5" width="35.66" height="13.0" fill="#0060dc" stroke="none"/>
<rect x="223.13" y="492.5" width="35.66" height="13.0" fill="#008cdc" stroke="none"/>
<rect x="258.29" y="492.5" width="35.66" height="13.0" fill="#00a8dc" stroke="none"/>
<rect x="293.45" y="492.5" width="35.66" height="13.0" fill="#00c0dc" stroke="none"/>
<rect x="328.61" y="492.5" width="35.66" height="13.0" fill="#00d0d4" stroke="none"/>
<rect x="363.76" y="492.5" width="35.66" height="13.0" fill="#00dcaa" stroke="none"/>
<rect x="398.92" y="492.5" width="35.66" height="13.0" fill="#e6e6e6" stroke="none"/>
<rect x="434.08" y="492.5" width="35.66" height="13.0" fill="#50dc28" stroke="none"/>
<rect x="469.24" y="492.5" width="35.66" height="13.0" fill="#96dc00" stroke="none"/>
<rect x="504.39" y="492.5" width="35.66" height="13.0" fill="#c8dc00" stroke="none"/>
<rect x="539.55" y="492.5" width="35.66" height="13.0" fill="#dcc000" stroke="none"/>
<rect x="574.71" y="492.5" width="35.66" height="13.0" fill="#dca800" stroke="none"/>
<rect x="609.87" y="492.5" width="35.66" height="13.0" fill="#dc8c00" stroke="none"/>
<rect x="645.03" y="492.5" width="35.66" height="13.0" fill="#dc6a00" stroke="none"/>
<rect x="680.18" y="492.5" width="35.66" height="13.0" fill="#dc4a00" stroke="none"/>
<rect x="715.34" y="492.5" width="35.16" height="13.0" fill="#dc2800" stroke="none"/>
<path d="M117.5 492.5V505.5M152.5 492.5V505.5M187.5 492.5V505.5M223.5 492.5V505.5M258.5 492.5V505.5M293.5 492.5V505.5M328.5 492.5V505.5M363.5 492.5V505.5M398.5 492.5V505.5M434.5 492.5V505.5M469.5 492.5V505.5M504.5 492.5V505.5M539.5 492.5V505.5M574.5 492.5V505.5M609.5 492.5V505.5M645.5 492.5V505.5M680.5 492.5V505.5M715.5 492.5V505.5" stroke="#000" stroke-width="1" fill="none" shape-rendering="crispEdges"/>
<rect x="82.5" y="492.5" width="668.0" height="13.0" fill="none" stroke="#000" stroke-width="1" shape-rendering="crispEdges"/>
<text x="117.7" y="522" font-size="19" text-anchor="middle">-90</text>
<text x="152.8" y="522" font-size="19" text-anchor="middle">-70</text>
<text x="188.0" y="522" font-size="19" text-anchor="middle">-50</text>
<text x="223.1" y="522" font-size="19" text-anchor="middle">-40</text>
<text x="258.3" y="522" font-size="19" text-anchor="middle">-30</text>
<text x="293.4" y="522" font-size="19" text-anchor="middle">-20</text>
<text x="328.6" y="522" font-size="19" text-anchor="middle">-10</text>
<text x="363.8" y="522" font-size="19" text-anchor="middle">-5</text>
<text x="398.9" y="522" font-size="19" text-anchor="middle">-2</text>
<text x="434.1" y="522" font-size="19" text-anchor="middle">2</text>
<text x="469.2" y="522" font-size="19" text-anchor="middle">5</text>
<text x="504.4" y="522" font-size="19" text-anchor="middle">10</text>
<text x="539.6" y="522" font-size="19" text-anchor="middle">20</text>
<text x="574.7" y="522" font-size="19" text-anchor="middle">30</text>
<text x="609.9" y="522" font-size="19" text-anchor="middle">40</text>
<text x="645.0" y="522" font-size="19" text-anchor="middle">50</text>
<text x="680.2" y="522" font-size="19" text-anchor="middle">70</text>
<text x="715.3" y="522" font-size="19" text-anchor="middle">90</text>
</g>
</svg>
</body></html>
